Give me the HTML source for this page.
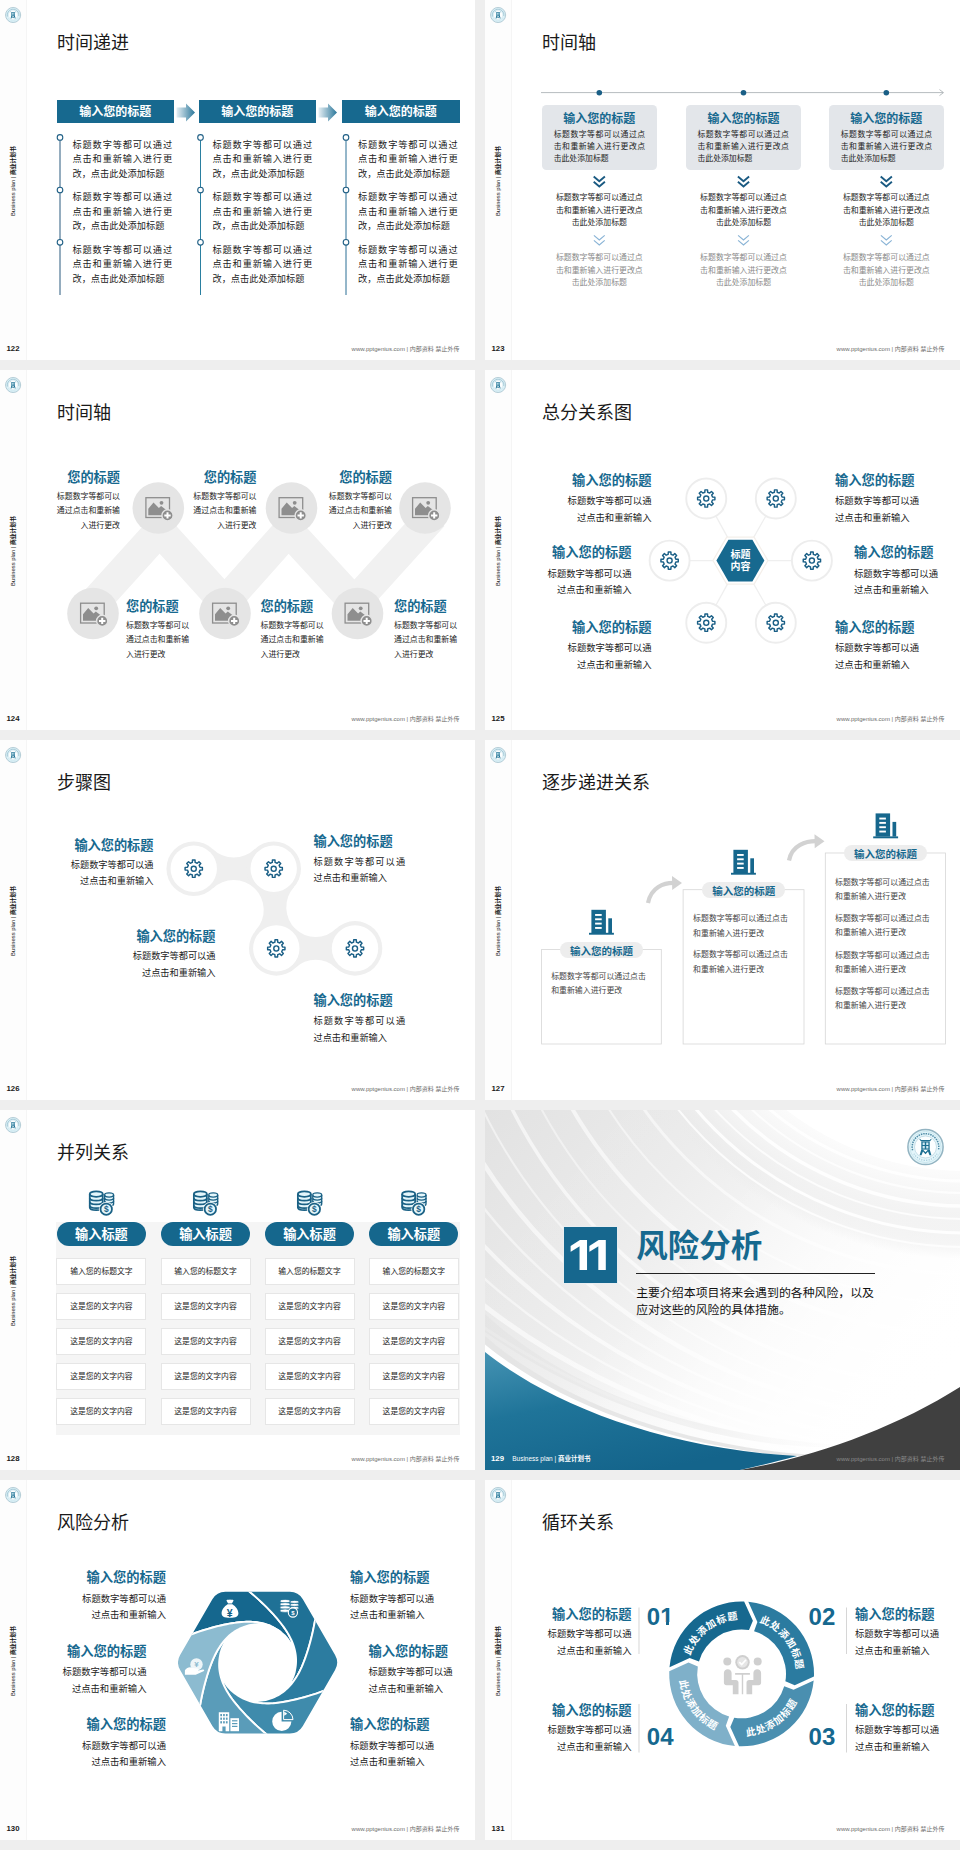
<!DOCTYPE html>
<html lang="zh"><head><meta charset="utf-8"><title>slides</title><style>
*{box-sizing:border-box;margin:0;padding:0}
html,body{width:960px;height:1850px;background:#eeeeee;overflow:hidden}
body{position:relative;font-family:"Liberation Sans","Noto Sans CJK SC",sans-serif;color:#333}
.s{position:absolute;width:475px;height:360px;background:#fff;overflow:hidden}
.s div,.s span,.s svg{position:absolute}
.sb{left:0;top:0;width:26.5px;height:360px;background:#fdfdfd;border-right:1px solid #f5f5f5}
.lg{left:5px;top:7px;width:17px;height:17px}
.vt{left:-36.7px;top:175.5px;width:100px;height:10px;line-height:10px;font-size:5.8px;color:#111;text-align:center;transform:rotate(-90deg);white-space:nowrap}
.pn{left:0;top:344px;width:26px;text-align:center;font-size:7.8px;font-weight:bold;color:#1a1a1a;line-height:10px}
.ft{right:15.5px;top:344px;font-size:6px;color:#6c6c6c;line-height:10px;white-space:nowrap}
.tt{left:57px;top:29.5px;font-size:18px;line-height:26px;color:#1a1a1a;white-space:nowrap}
.h{font-weight:bold;color:#17698f;white-space:nowrap}
.p{color:#333;white-space:nowrap}
.r{text-align:right}
.c{text-align:center}
</style></head><body>
<div class="s" style="left:0px;top:0px"><div class="sb"></div><svg class="lg" style="left:0;top:0;width:27px;height:30px" viewBox="0 0 27 30"><g transform="translate(13.1 15) scale(0.4293478260869566)"><circle r="17.6" fill="#e3f5fa" stroke="#93b4c2" stroke-width="1.5"/><circle r="15.6" fill="none" stroke="#b9dbe6" stroke-width="0.6"/><path d="M-12.9 3.2A13.3 13.3 0 1 1 12.9 3.2" fill="none" stroke="#3d7f9c" stroke-width="1.5" stroke-dasharray="1.5 0.9" stroke-opacity="0.9"/><path d="M-11.5 6.700A13.3 13.3 0 0 0 11.5 6.700" fill="none" stroke="#8fbdd0" stroke-width="1.2" stroke-dasharray="1 1.4" stroke-opacity="0.8"/><circle r="11" fill="#fbfeff" stroke="#a9cbd8" stroke-width="0.6"/><path d="M-5.6 -8.3l1.3 1.3h8.6l1.3-1.3 0.5 0.6-1.5 2h-9.2l-1.5-2z" fill="#1b6f92"/><path d="M-4.2 -5.6h8.4v8.2h-8.4z" fill="#1b6f92"/><path d="M-2.9 -4.4h2.2v2.4h-2.2zM0.7 -4.4h2.2v2.4h-2.2zM-2.9 -1h2.2v2.4h-2.2zM0.7 -1h2.2v2.4h-2.2z" fill="#cfe9f2"/><path d="M-4.2 2.6l-1.7 5.6h1.9l1.5-3.6 2.5 2.7 2.5-2.7 1.5 3.6h1.9l-1.7-5.6h-1.6l-2.6 2.7-2.6-2.7z" fill="#1b6f92"/></g></svg><div class="vt">Business plan | <b>商业计划书</b></div><div class="pn">122</div><div class="ft">www.pptgenius.com | 内部资料 禁止外传</div><div class="tt">时间递进</div><svg style="left:0;top:0" width="475" height="360" viewBox="0 0 475 360"><defs><linearGradient id="ag" x1="0" x2="1" y1="0" y2="0"><stop offset="0" stop-color="#e6eff4"/><stop offset="1" stop-color="#2a779a"/></linearGradient></defs><path d="M176.5 107.5h9.5v-4l9 9-9 9v-4h-9.5z" fill="url(#ag)"/><path d="M318.5 107.5h9.5v-4l9 9-9 9v-4h-9.5z" fill="url(#ag)"/><line x1="60" y1="137" x2="60" y2="295" stroke="#2a5a7e" stroke-width="1"/><circle cx="60" cy="137.4" r="2.8" fill="#fff" stroke="#1f5f85" stroke-width="1.1"/><circle cx="60" cy="190" r="2.8" fill="#fff" stroke="#1f5f85" stroke-width="1.1"/><circle cx="60" cy="242.3" r="2.8" fill="#fff" stroke="#1f5f85" stroke-width="1.1"/><line x1="200.5" y1="137" x2="200.5" y2="295" stroke="#2a7fa0" stroke-width="1"/><circle cx="200.5" cy="137.4" r="2.8" fill="#fff" stroke="#1f5f85" stroke-width="1.1"/><circle cx="200.5" cy="190" r="2.8" fill="#fff" stroke="#1f5f85" stroke-width="1.1"/><circle cx="200.5" cy="242.3" r="2.8" fill="#fff" stroke="#1f5f85" stroke-width="1.1"/><line x1="346" y1="137" x2="346" y2="295" stroke="#2a6f95" stroke-width="1"/><circle cx="346" cy="137.4" r="2.8" fill="#fff" stroke="#1f5f85" stroke-width="1.1"/><circle cx="346" cy="190" r="2.8" fill="#fff" stroke="#1f5f85" stroke-width="1.1"/><circle cx="346" cy="242.3" r="2.8" fill="#fff" stroke="#1f5f85" stroke-width="1.1"/></svg><div style="left:56.5px;top:100px;width:117.5px;height:22.5px;background:#17698f;color:#fff;font-weight:bold;font-size:12px;line-height:25.6px;text-align:center;white-space:nowrap">输入您的标题</div><div style="left:198.5px;top:100px;width:117.5px;height:22.5px;background:#17698f;color:#fff;font-weight:bold;font-size:12px;line-height:25.6px;text-align:center;white-space:nowrap">输入您的标题</div><div style="left:342px;top:100px;width:117.5px;height:22.5px;background:#17698f;color:#fff;font-weight:bold;font-size:12px;line-height:25.6px;text-align:center;white-space:nowrap">输入您的标题</div><div class="p" style="top:137.80px;font-size:9.2px;line-height:14.4px;left:72.5px;color:#222;width:99.6px;white-space:normal;text-align:justify;">标题数字等都可以通过点击和重新输入进行更改，点击此处添加标题</div><div class="p" style="top:190.30px;font-size:9.2px;line-height:14.4px;left:72.5px;color:#222;width:99.6px;white-space:normal;text-align:justify;">标题数字等都可以通过点击和重新输入进行更改，点击此处添加标题</div><div class="p" style="top:242.80px;font-size:9.2px;line-height:14.4px;left:72.5px;color:#222;width:99.6px;white-space:normal;text-align:justify;">标题数字等都可以通过点击和重新输入进行更改，点击此处添加标题</div><div class="p" style="top:137.80px;font-size:9.2px;line-height:14.4px;left:212.5px;color:#222;width:99.6px;white-space:normal;text-align:justify;">标题数字等都可以通过点击和重新输入进行更改，点击此处添加标题</div><div class="p" style="top:190.30px;font-size:9.2px;line-height:14.4px;left:212.5px;color:#222;width:99.6px;white-space:normal;text-align:justify;">标题数字等都可以通过点击和重新输入进行更改，点击此处添加标题</div><div class="p" style="top:242.80px;font-size:9.2px;line-height:14.4px;left:212.5px;color:#222;width:99.6px;white-space:normal;text-align:justify;">标题数字等都可以通过点击和重新输入进行更改，点击此处添加标题</div><div class="p" style="top:137.80px;font-size:9.2px;line-height:14.4px;left:358px;color:#222;width:99.6px;white-space:normal;text-align:justify;">标题数字等都可以通过点击和重新输入进行更改，点击此处添加标题</div><div class="p" style="top:190.30px;font-size:9.2px;line-height:14.4px;left:358px;color:#222;width:99.6px;white-space:normal;text-align:justify;">标题数字等都可以通过点击和重新输入进行更改，点击此处添加标题</div><div class="p" style="top:242.80px;font-size:9.2px;line-height:14.4px;left:358px;color:#222;width:99.6px;white-space:normal;text-align:justify;">标题数字等都可以通过点击和重新输入进行更改，点击此处添加标题</div></div>
<div class="s" style="left:485px;top:0px"><div class="sb"></div><svg class="lg" style="left:0;top:0;width:27px;height:30px" viewBox="0 0 27 30"><g transform="translate(13.1 15) scale(0.4293478260869566)"><circle r="17.6" fill="#e3f5fa" stroke="#93b4c2" stroke-width="1.5"/><circle r="15.6" fill="none" stroke="#b9dbe6" stroke-width="0.6"/><path d="M-12.9 3.2A13.3 13.3 0 1 1 12.9 3.2" fill="none" stroke="#3d7f9c" stroke-width="1.5" stroke-dasharray="1.5 0.9" stroke-opacity="0.9"/><path d="M-11.5 6.700A13.3 13.3 0 0 0 11.5 6.700" fill="none" stroke="#8fbdd0" stroke-width="1.2" stroke-dasharray="1 1.4" stroke-opacity="0.8"/><circle r="11" fill="#fbfeff" stroke="#a9cbd8" stroke-width="0.6"/><path d="M-5.6 -8.3l1.3 1.3h8.6l1.3-1.3 0.5 0.6-1.5 2h-9.2l-1.5-2z" fill="#1b6f92"/><path d="M-4.2 -5.6h8.4v8.2h-8.4z" fill="#1b6f92"/><path d="M-2.9 -4.4h2.2v2.4h-2.2zM0.7 -4.4h2.2v2.4h-2.2zM-2.9 -1h2.2v2.4h-2.2zM0.7 -1h2.2v2.4h-2.2z" fill="#cfe9f2"/><path d="M-4.2 2.6l-1.7 5.6h1.9l1.5-3.6 2.5 2.7 2.5-2.7 1.5 3.6h1.9l-1.7-5.6h-1.6l-2.6 2.7-2.6-2.7z" fill="#1b6f92"/></g></svg><div class="vt">Business plan | <b>商业计划书</b></div><div class="pn">123</div><div class="ft">www.pptgenius.com | 内部资料 禁止外传</div><div class="tt">时间轴</div><svg style="left:0;top:0" width="475" height="360" viewBox="0 0 475 360"><line x1="56" y1="92.6" x2="458" y2="92.6" stroke="#a3a9ad" stroke-width="0.8"/><path d="M454.5 89.6l4 3-4 3" fill="none" stroke="#a3a9ad" stroke-width="0.8"/><circle cx="114.3" cy="92.7" r="2.8" fill="#1a5f86"/><path d="M108.7 176.6l5.6 4.6 5.6-4.6" fill="none" stroke="#1a5a82" stroke-width="1.9"/><path d="M108.7 181.79999999999998l5.6 4.6 5.6-4.6" fill="none" stroke="#1a5a82" stroke-width="1.9"/><path d="M108.89999999999999 235.4l5.4 4.6 5.4-4.6" fill="none" stroke="#8ab4d6" stroke-width="1.2"/><path d="M108.89999999999999 240.4l5.4 4.6 5.4-4.6" fill="none" stroke="#8ab4d6" stroke-width="1.2"/><circle cx="258.5" cy="92.7" r="2.8" fill="#1a5f86"/><path d="M252.9 176.6l5.6 4.6 5.6-4.6" fill="none" stroke="#1a5a82" stroke-width="1.9"/><path d="M252.9 181.79999999999998l5.6 4.6 5.6-4.6" fill="none" stroke="#1a5a82" stroke-width="1.9"/><path d="M253.1 235.4l5.4 4.6 5.4-4.6" fill="none" stroke="#8ab4d6" stroke-width="1.2"/><path d="M253.1 240.4l5.4 4.6 5.4-4.6" fill="none" stroke="#8ab4d6" stroke-width="1.2"/><circle cx="401.3" cy="92.7" r="2.8" fill="#1a5f86"/><path d="M395.7 176.6l5.6 4.6 5.6-4.6" fill="none" stroke="#1a5a82" stroke-width="1.9"/><path d="M395.7 181.79999999999998l5.6 4.6 5.6-4.6" fill="none" stroke="#1a5a82" stroke-width="1.9"/><path d="M395.90000000000003 235.4l5.4 4.6 5.4-4.6" fill="none" stroke="#8ab4d6" stroke-width="1.2"/><path d="M395.90000000000003 240.4l5.4 4.6 5.4-4.6" fill="none" stroke="#8ab4d6" stroke-width="1.2"/></svg><div style="left:56.7px;top:104.5px;width:115.5px;height:65.5px;background:#e3e6ea;border-radius:4.5px"></div><div class="h c" style="top:111.10px;font-size:12px;line-height:16px;left:56.8px;width:115px;text-align:center;">输入您的标题</div><div class="p" style="top:129.05px;font-size:7.85px;line-height:12.1px;left:68.7px;color:#222;width:91.4px;white-space:normal;text-align:justify;">标题数字等都可以通过点击和重新输入进行更改点击此处添加标题</div><div class="p c" style="top:192.05px;font-size:7.9px;line-height:12.5px;left:56.8px;width:115px;text-align:center;color:#222;">标题数字等都可以通过点<br>击和重新输入进行更改点<br>击此处添加标题</div><div class="p c" style="top:252.05px;font-size:7.9px;line-height:12.5px;left:56.8px;width:115px;text-align:center;color:#8a8a8a;">标题数字等都可以通过点<br>击和重新输入进行更改点<br>击此处添加标题</div><div style="left:200.5px;top:104.5px;width:115.5px;height:65.5px;background:#e3e6ea;border-radius:4.5px"></div><div class="h c" style="top:111.10px;font-size:12px;line-height:16px;left:201.0px;width:115px;text-align:center;">输入您的标题</div><div class="p" style="top:129.05px;font-size:7.85px;line-height:12.1px;left:212.5px;color:#222;width:91.4px;white-space:normal;text-align:justify;">标题数字等都可以通过点击和重新输入进行更改点击此处添加标题</div><div class="p c" style="top:192.05px;font-size:7.9px;line-height:12.5px;left:201.0px;width:115px;text-align:center;color:#222;">标题数字等都可以通过点<br>击和重新输入进行更改点<br>击此处添加标题</div><div class="p c" style="top:252.05px;font-size:7.9px;line-height:12.5px;left:201.0px;width:115px;text-align:center;color:#8a8a8a;">标题数字等都可以通过点<br>击和重新输入进行更改点<br>击此处添加标题</div><div style="left:343.7px;top:104.5px;width:115.5px;height:65.5px;background:#e3e6ea;border-radius:4.5px"></div><div class="h c" style="top:111.10px;font-size:12px;line-height:16px;left:343.8px;width:115px;text-align:center;">输入您的标题</div><div class="p" style="top:129.05px;font-size:7.85px;line-height:12.1px;left:355.7px;color:#222;width:91.4px;white-space:normal;text-align:justify;">标题数字等都可以通过点击和重新输入进行更改点击此处添加标题</div><div class="p c" style="top:192.05px;font-size:7.9px;line-height:12.5px;left:343.8px;width:115px;text-align:center;color:#222;">标题数字等都可以通过点<br>击和重新输入进行更改点<br>击此处添加标题</div><div class="p c" style="top:252.05px;font-size:7.9px;line-height:12.5px;left:343.8px;width:115px;text-align:center;color:#8a8a8a;">标题数字等都可以通过点<br>击和重新输入进行更改点<br>击此处添加标题</div></div>
<div class="s" style="left:0px;top:370px"><div class="sb"></div><svg class="lg" style="left:0;top:0;width:27px;height:30px" viewBox="0 0 27 30"><g transform="translate(13.1 15) scale(0.4293478260869566)"><circle r="17.6" fill="#e3f5fa" stroke="#93b4c2" stroke-width="1.5"/><circle r="15.6" fill="none" stroke="#b9dbe6" stroke-width="0.6"/><path d="M-12.9 3.2A13.3 13.3 0 1 1 12.9 3.2" fill="none" stroke="#3d7f9c" stroke-width="1.5" stroke-dasharray="1.5 0.9" stroke-opacity="0.9"/><path d="M-11.5 6.700A13.3 13.3 0 0 0 11.5 6.700" fill="none" stroke="#8fbdd0" stroke-width="1.2" stroke-dasharray="1 1.4" stroke-opacity="0.8"/><circle r="11" fill="#fbfeff" stroke="#a9cbd8" stroke-width="0.6"/><path d="M-5.6 -8.3l1.3 1.3h8.6l1.3-1.3 0.5 0.6-1.5 2h-9.2l-1.5-2z" fill="#1b6f92"/><path d="M-4.2 -5.6h8.4v8.2h-8.4z" fill="#1b6f92"/><path d="M-2.9 -4.4h2.2v2.4h-2.2zM0.7 -4.4h2.2v2.4h-2.2zM-2.9 -1h2.2v2.4h-2.2zM0.7 -1h2.2v2.4h-2.2z" fill="#cfe9f2"/><path d="M-4.2 2.6l-1.7 5.6h1.9l1.5-3.6 2.5 2.7 2.5-2.7 1.5 3.6h1.9l-1.7-5.6h-1.6l-2.6 2.7-2.6-2.7z" fill="#1b6f92"/></g></svg><div class="vt">Business plan | <b>商业计划书</b></div><div class="pn">124</div><div class="ft">www.pptgenius.com | 内部资料 禁止外传</div><div class="tt">时间轴</div><svg style="left:0;top:0" width="475" height="360" viewBox="0 0 475 360"><polyline points="88.4,239.3 159.6,160.7 224.6,232.4 288.5,160.7 354.5,232.4 432.9,145.9" fill="none" stroke="#f1f1f1" stroke-width="31" stroke-linejoin="miter"/><g transform="translate(93 243.5)"><circle r="25.8" fill="#e5e5e5"/><rect x="-12.4" y="-10.3" width="23.6" height="19.8" fill="none" stroke="#8e8e8e" stroke-width="1.3"/><path d="M-10 7.3v-6.5l5.2-6.2 5.4 5.3 2.2-2 5.2 4v5.4z" fill="#8e8e8e"/><circle cx="3.2" cy="-5.2" r="1.9" fill="#8e8e8e"/><circle cx="9.2" cy="7.4" r="5.6" fill="#8e8e8e" stroke="#e5e5e5" stroke-width="1.4"/><path d="M9.2 4.2v6.4M6 7.4h6.4" stroke="#fff" stroke-width="2" fill="none"/></g><g transform="translate(158.3 138)"><circle r="25.8" fill="#e5e5e5"/><rect x="-12.4" y="-10.3" width="23.6" height="19.8" fill="none" stroke="#8e8e8e" stroke-width="1.3"/><path d="M-10 7.3v-6.5l5.2-6.2 5.4 5.3 2.2-2 5.2 4v5.4z" fill="#8e8e8e"/><circle cx="3.2" cy="-5.2" r="1.9" fill="#8e8e8e"/><circle cx="9.2" cy="7.4" r="5.6" fill="#8e8e8e" stroke="#e5e5e5" stroke-width="1.4"/><path d="M9.2 4.2v6.4M6 7.4h6.4" stroke="#fff" stroke-width="2" fill="none"/></g><g transform="translate(225 243.5)"><circle r="25.8" fill="#e5e5e5"/><rect x="-12.4" y="-10.3" width="23.6" height="19.8" fill="none" stroke="#8e8e8e" stroke-width="1.3"/><path d="M-10 7.3v-6.5l5.2-6.2 5.4 5.3 2.2-2 5.2 4v5.4z" fill="#8e8e8e"/><circle cx="3.2" cy="-5.2" r="1.9" fill="#8e8e8e"/><circle cx="9.2" cy="7.4" r="5.6" fill="#8e8e8e" stroke="#e5e5e5" stroke-width="1.4"/><path d="M9.2 4.2v6.4M6 7.4h6.4" stroke="#fff" stroke-width="2" fill="none"/></g><g transform="translate(291.5 138)"><circle r="25.8" fill="#e5e5e5"/><rect x="-12.4" y="-10.3" width="23.6" height="19.8" fill="none" stroke="#8e8e8e" stroke-width="1.3"/><path d="M-10 7.3v-6.5l5.2-6.2 5.4 5.3 2.2-2 5.2 4v5.4z" fill="#8e8e8e"/><circle cx="3.2" cy="-5.2" r="1.9" fill="#8e8e8e"/><circle cx="9.2" cy="7.4" r="5.6" fill="#8e8e8e" stroke="#e5e5e5" stroke-width="1.4"/><path d="M9.2 4.2v6.4M6 7.4h6.4" stroke="#fff" stroke-width="2" fill="none"/></g><g transform="translate(357.5 243.5)"><circle r="25.8" fill="#e5e5e5"/><rect x="-12.4" y="-10.3" width="23.6" height="19.8" fill="none" stroke="#8e8e8e" stroke-width="1.3"/><path d="M-10 7.3v-6.5l5.2-6.2 5.4 5.3 2.2-2 5.2 4v5.4z" fill="#8e8e8e"/><circle cx="3.2" cy="-5.2" r="1.9" fill="#8e8e8e"/><circle cx="9.2" cy="7.4" r="5.6" fill="#8e8e8e" stroke="#e5e5e5" stroke-width="1.4"/><path d="M9.2 4.2v6.4M6 7.4h6.4" stroke="#fff" stroke-width="2" fill="none"/></g><g transform="translate(425 138)"><circle r="25.8" fill="#e5e5e5"/><rect x="-12.4" y="-10.3" width="23.6" height="19.8" fill="none" stroke="#8e8e8e" stroke-width="1.3"/><path d="M-10 7.3v-6.5l5.2-6.2 5.4 5.3 2.2-2 5.2 4v5.4z" fill="#8e8e8e"/><circle cx="3.2" cy="-5.2" r="1.9" fill="#8e8e8e"/><circle cx="9.2" cy="7.4" r="5.6" fill="#8e8e8e" stroke="#e5e5e5" stroke-width="1.4"/><path d="M9.2 4.2v6.4M6 7.4h6.4" stroke="#fff" stroke-width="2" fill="none"/></g></svg><div class="h" style="top:99.00px;font-size:13.2px;line-height:18px;right:355px;text-align:right;">您的标题</div><div class="p" style="top:119.72px;font-size:7.9px;line-height:14.55px;right:355px;text-align:right;color:#222;">标题数字等都可以<br>通过点击和重新输<br>入进行更改</div><div class="h" style="top:99.00px;font-size:13.2px;line-height:18px;right:218.5px;text-align:right;">您的标题</div><div class="p" style="top:119.72px;font-size:7.9px;line-height:14.55px;right:218.5px;text-align:right;color:#222;">标题数字等都可以<br>通过点击和重新输<br>入进行更改</div><div class="h" style="top:99.00px;font-size:13.2px;line-height:18px;right:83px;text-align:right;">您的标题</div><div class="p" style="top:119.72px;font-size:7.9px;line-height:14.55px;right:83px;text-align:right;color:#222;">标题数字等都可以<br>通过点击和重新输<br>入进行更改</div><div class="h" style="top:228.00px;font-size:13.2px;line-height:18px;left:126px;">您的标题</div><div class="p" style="top:248.53px;font-size:7.9px;line-height:14.55px;left:126px;color:#222;">标题数字等都可以<br>通过点击和重新输<br>入进行更改</div><div class="h" style="top:228.00px;font-size:13.2px;line-height:18px;left:260.5px;">您的标题</div><div class="p" style="top:248.53px;font-size:7.9px;line-height:14.55px;left:260.5px;color:#222;">标题数字等都可以<br>通过点击和重新输<br>入进行更改</div><div class="h" style="top:228.00px;font-size:13.2px;line-height:18px;left:394px;">您的标题</div><div class="p" style="top:248.53px;font-size:7.9px;line-height:14.55px;left:394px;color:#222;">标题数字等都可以<br>通过点击和重新输<br>入进行更改</div></div>
<div class="s" style="left:485px;top:370px"><div class="sb"></div><svg class="lg" style="left:0;top:0;width:27px;height:30px" viewBox="0 0 27 30"><g transform="translate(13.1 15) scale(0.4293478260869566)"><circle r="17.6" fill="#e3f5fa" stroke="#93b4c2" stroke-width="1.5"/><circle r="15.6" fill="none" stroke="#b9dbe6" stroke-width="0.6"/><path d="M-12.9 3.2A13.3 13.3 0 1 1 12.9 3.2" fill="none" stroke="#3d7f9c" stroke-width="1.5" stroke-dasharray="1.5 0.9" stroke-opacity="0.9"/><path d="M-11.5 6.700A13.3 13.3 0 0 0 11.5 6.700" fill="none" stroke="#8fbdd0" stroke-width="1.2" stroke-dasharray="1 1.4" stroke-opacity="0.8"/><circle r="11" fill="#fbfeff" stroke="#a9cbd8" stroke-width="0.6"/><path d="M-5.6 -8.3l1.3 1.3h8.6l1.3-1.3 0.5 0.6-1.5 2h-9.2l-1.5-2z" fill="#1b6f92"/><path d="M-4.2 -5.6h8.4v8.2h-8.4z" fill="#1b6f92"/><path d="M-2.9 -4.4h2.2v2.4h-2.2zM0.7 -4.4h2.2v2.4h-2.2zM-2.9 -1h2.2v2.4h-2.2zM0.7 -1h2.2v2.4h-2.2z" fill="#cfe9f2"/><path d="M-4.2 2.6l-1.7 5.6h1.9l1.5-3.6 2.5 2.7 2.5-2.7 1.5 3.6h1.9l-1.7-5.6h-1.6l-2.6 2.7-2.6-2.7z" fill="#1b6f92"/></g></svg><div class="vt">Business plan | <b>商业计划书</b></div><div class="pn">125</div><div class="ft">www.pptgenius.com | 内部资料 禁止外传</div><div class="tt">总分关系图</div><svg style="left:0;top:0" width="475" height="360" viewBox="0 0 475 360"><line x1="255.4" y1="190.6" x2="221.25" y2="128.5" stroke="#efefef" stroke-width="1.3"/><line x1="255.4" y1="190.6" x2="290.8" y2="128.5" stroke="#efefef" stroke-width="1.3"/><line x1="255.4" y1="190.6" x2="184.6" y2="190.6" stroke="#efefef" stroke-width="1.3"/><line x1="255.4" y1="190.6" x2="326.9" y2="190.6" stroke="#efefef" stroke-width="1.3"/><line x1="255.4" y1="190.6" x2="221.25" y2="252.7" stroke="#efefef" stroke-width="1.3"/><line x1="255.4" y1="190.6" x2="290.8" y2="252.7" stroke="#efefef" stroke-width="1.3"/><polygon points="227.9,190.6 241.7,167.1 269.1,167.1 282.9,190.6 269.1,214.1 241.7,214.1" fill="#fff" stroke="#f4efea" stroke-width="1.2"/><polygon points="231.4,190.6 243.4,169.8 267.4,169.8 279.4,190.6 267.4,211.4 243.4,211.4" fill="#17698f"/><circle cx="221.25" cy="128.5" r="20" fill="#fff" stroke="#ededed" stroke-width="1.9"/><g transform="translate(221.25 128.5) scale(0.93)" fill="none" stroke="#1a5f86" stroke-width="1.55" stroke-linejoin="round"><path d="M-1.51 -6.73L-1.40 -9.30L1.40 -9.30L1.51 -6.73L3.70 -5.83L5.58 -7.56L7.56 -5.58L5.83 -3.70L6.73 -1.51L9.30 -1.40L9.30 1.40L6.73 1.51L5.83 3.70L7.56 5.58L5.58 7.56L3.70 5.83L1.51 6.73L1.40 9.30L-1.40 9.30L-1.51 6.73L-3.70 5.83L-5.58 7.56L-7.56 5.58L-5.83 3.70L-6.73 1.51L-9.30 1.40L-9.30 -1.40L-6.73 -1.51L-5.83 -3.70L-7.56 -5.58L-5.58 -7.56L-3.70 -5.83Z"/><circle r="2.7"/></g><circle cx="290.8" cy="128.5" r="20" fill="#fff" stroke="#ededed" stroke-width="1.9"/><g transform="translate(290.8 128.5) scale(0.93)" fill="none" stroke="#1a5f86" stroke-width="1.55" stroke-linejoin="round"><path d="M-1.51 -6.73L-1.40 -9.30L1.40 -9.30L1.51 -6.73L3.70 -5.83L5.58 -7.56L7.56 -5.58L5.83 -3.70L6.73 -1.51L9.30 -1.40L9.30 1.40L6.73 1.51L5.83 3.70L7.56 5.58L5.58 7.56L3.70 5.83L1.51 6.73L1.40 9.30L-1.40 9.30L-1.51 6.73L-3.70 5.83L-5.58 7.56L-7.56 5.58L-5.83 3.70L-6.73 1.51L-9.30 1.40L-9.30 -1.40L-6.73 -1.51L-5.83 -3.70L-7.56 -5.58L-5.58 -7.56L-3.70 -5.83Z"/><circle r="2.7"/></g><circle cx="184.6" cy="190.6" r="20" fill="#fff" stroke="#ededed" stroke-width="1.9"/><g transform="translate(184.6 190.6) scale(0.93)" fill="none" stroke="#1a5f86" stroke-width="1.55" stroke-linejoin="round"><path d="M-1.51 -6.73L-1.40 -9.30L1.40 -9.30L1.51 -6.73L3.70 -5.83L5.58 -7.56L7.56 -5.58L5.83 -3.70L6.73 -1.51L9.30 -1.40L9.30 1.40L6.73 1.51L5.83 3.70L7.56 5.58L5.58 7.56L3.70 5.83L1.51 6.73L1.40 9.30L-1.40 9.30L-1.51 6.73L-3.70 5.83L-5.58 7.56L-7.56 5.58L-5.83 3.70L-6.73 1.51L-9.30 1.40L-9.30 -1.40L-6.73 -1.51L-5.83 -3.70L-7.56 -5.58L-5.58 -7.56L-3.70 -5.83Z"/><circle r="2.7"/></g><circle cx="326.9" cy="190.6" r="20" fill="#fff" stroke="#ededed" stroke-width="1.9"/><g transform="translate(326.9 190.6) scale(0.93)" fill="none" stroke="#1a5f86" stroke-width="1.55" stroke-linejoin="round"><path d="M-1.51 -6.73L-1.40 -9.30L1.40 -9.30L1.51 -6.73L3.70 -5.83L5.58 -7.56L7.56 -5.58L5.83 -3.70L6.73 -1.51L9.30 -1.40L9.30 1.40L6.73 1.51L5.83 3.70L7.56 5.58L5.58 7.56L3.70 5.83L1.51 6.73L1.40 9.30L-1.40 9.30L-1.51 6.73L-3.70 5.83L-5.58 7.56L-7.56 5.58L-5.83 3.70L-6.73 1.51L-9.30 1.40L-9.30 -1.40L-6.73 -1.51L-5.83 -3.70L-7.56 -5.58L-5.58 -7.56L-3.70 -5.83Z"/><circle r="2.7"/></g><circle cx="221.25" cy="252.7" r="20" fill="#fff" stroke="#ededed" stroke-width="1.9"/><g transform="translate(221.25 252.7) scale(0.93)" fill="none" stroke="#1a5f86" stroke-width="1.55" stroke-linejoin="round"><path d="M-1.51 -6.73L-1.40 -9.30L1.40 -9.30L1.51 -6.73L3.70 -5.83L5.58 -7.56L7.56 -5.58L5.83 -3.70L6.73 -1.51L9.30 -1.40L9.30 1.40L6.73 1.51L5.83 3.70L7.56 5.58L5.58 7.56L3.70 5.83L1.51 6.73L1.40 9.30L-1.40 9.30L-1.51 6.73L-3.70 5.83L-5.58 7.56L-7.56 5.58L-5.83 3.70L-6.73 1.51L-9.30 1.40L-9.30 -1.40L-6.73 -1.51L-5.83 -3.70L-7.56 -5.58L-5.58 -7.56L-3.70 -5.83Z"/><circle r="2.7"/></g><circle cx="290.8" cy="252.7" r="20" fill="#fff" stroke="#ededed" stroke-width="1.9"/><g transform="translate(290.8 252.7) scale(0.93)" fill="none" stroke="#1a5f86" stroke-width="1.55" stroke-linejoin="round"><path d="M-1.51 -6.73L-1.40 -9.30L1.40 -9.30L1.51 -6.73L3.70 -5.83L5.58 -7.56L7.56 -5.58L5.83 -3.70L6.73 -1.51L9.30 -1.40L9.30 1.40L6.73 1.51L5.83 3.70L7.56 5.58L5.58 7.56L3.70 5.83L1.51 6.73L1.40 9.30L-1.40 9.30L-1.51 6.73L-3.70 5.83L-5.58 7.56L-7.56 5.58L-5.83 3.70L-6.73 1.51L-9.30 1.40L-9.30 -1.40L-6.73 -1.51L-5.83 -3.70L-7.56 -5.58L-5.58 -7.56L-3.70 -5.83Z"/><circle r="2.7"/></g></svg><div class="h c" style="top:179.25px;font-size:10px;line-height:11.9px;left:225.4px;width:60px;text-align:center;color:#fff;">标题<br>内容</div><div class="h" style="top:101.80px;font-size:13.25px;line-height:18px;right:308.5px;text-align:right;">输入您的标题</div><div class="p" style="top:123.35px;font-size:9.33px;line-height:16.5px;right:308.5px;text-align:right;color:#222;">标题数字等都可以通<br>过点击和重新输入</div><div class="h" style="top:174.30px;font-size:13.25px;line-height:18px;right:328.5px;text-align:right;">输入您的标题</div><div class="p" style="top:195.85px;font-size:9.33px;line-height:16.5px;right:328.5px;text-align:right;color:#222;">标题数字等都可以通<br>过点击和重新输入</div><div class="h" style="top:248.80px;font-size:13.25px;line-height:18px;right:308.5px;text-align:right;">输入您的标题</div><div class="p" style="top:270.35px;font-size:9.33px;line-height:16.5px;right:308.5px;text-align:right;color:#222;">标题数字等都可以通<br>过点击和重新输入</div><div class="h" style="top:101.80px;font-size:13.25px;line-height:18px;left:350px;">输入您的标题</div><div class="p" style="top:123.35px;font-size:9.33px;line-height:16.5px;left:350px;color:#222;">标题数字等都可以通<br>过点击和重新输入</div><div class="h" style="top:174.30px;font-size:13.25px;line-height:18px;left:369px;">输入您的标题</div><div class="p" style="top:195.85px;font-size:9.33px;line-height:16.5px;left:369px;color:#222;">标题数字等都可以通<br>过点击和重新输入</div><div class="h" style="top:248.80px;font-size:13.25px;line-height:18px;left:350px;">输入您的标题</div><div class="p" style="top:270.35px;font-size:9.33px;line-height:16.5px;left:350px;color:#222;">标题数字等都可以通<br>过点击和重新输入</div></div>
<div class="s" style="left:0px;top:740px"><div class="sb"></div><svg class="lg" style="left:0;top:0;width:27px;height:30px" viewBox="0 0 27 30"><g transform="translate(13.1 15) scale(0.4293478260869566)"><circle r="17.6" fill="#e3f5fa" stroke="#93b4c2" stroke-width="1.5"/><circle r="15.6" fill="none" stroke="#b9dbe6" stroke-width="0.6"/><path d="M-12.9 3.2A13.3 13.3 0 1 1 12.9 3.2" fill="none" stroke="#3d7f9c" stroke-width="1.5" stroke-dasharray="1.5 0.9" stroke-opacity="0.9"/><path d="M-11.5 6.700A13.3 13.3 0 0 0 11.5 6.700" fill="none" stroke="#8fbdd0" stroke-width="1.2" stroke-dasharray="1 1.4" stroke-opacity="0.8"/><circle r="11" fill="#fbfeff" stroke="#a9cbd8" stroke-width="0.6"/><path d="M-5.6 -8.3l1.3 1.3h8.6l1.3-1.3 0.5 0.6-1.5 2h-9.2l-1.5-2z" fill="#1b6f92"/><path d="M-4.2 -5.6h8.4v8.2h-8.4z" fill="#1b6f92"/><path d="M-2.9 -4.4h2.2v2.4h-2.2zM0.7 -4.4h2.2v2.4h-2.2zM-2.9 -1h2.2v2.4h-2.2zM0.7 -1h2.2v2.4h-2.2z" fill="#cfe9f2"/><path d="M-4.2 2.6l-1.7 5.6h1.9l1.5-3.6 2.5 2.7 2.5-2.7 1.5 3.6h1.9l-1.7-5.6h-1.6l-2.6 2.7-2.6-2.7z" fill="#1b6f92"/></g></svg><div class="vt">Business plan | <b>商业计划书</b></div><div class="pn">126</div><div class="ft">www.pptgenius.com | 内部资料 禁止外传</div><div class="tt">步骤图</div><svg style="left:0;top:0" width="475" height="360" viewBox="0 0 475 360"><path transform="translate(193.75 128.7) rotate(0.00)" d="M18.84 -19.76A30.64 30.64 0 0 0 61.11 -19.76L61.11 19.76A30.64 30.64 0 0 0 18.84 19.76Z" fill="#efefef"/><path transform="translate(273.7 128.7) rotate(88.13)" d="M18.87 -19.73A30.38 30.38 0 0 0 60.87 -19.73L60.87 19.73A30.38 30.38 0 0 0 18.87 19.73Z" fill="#efefef"/><path transform="translate(276.3 208.4) rotate(0.00)" d="M19.05 -19.55A29.09 29.09 0 0 0 59.65 -19.55L59.65 19.55A29.09 29.09 0 0 0 19.05 19.55Z" fill="#efefef"/><circle cx="193.75" cy="128.7" r="27.3" fill="#efefef"/><circle cx="273.7" cy="128.7" r="27.3" fill="#efefef"/><circle cx="276.3" cy="208.4" r="27.3" fill="#efefef"/><circle cx="355" cy="208.4" r="27.3" fill="#efefef"/><circle cx="193.75" cy="128.7" r="23.2" fill="#fff"/><g transform="translate(193.75 128.7) scale(0.93)" fill="none" stroke="#1a5f86" stroke-width="1.55" stroke-linejoin="round"><path d="M-1.51 -6.73L-1.40 -9.30L1.40 -9.30L1.51 -6.73L3.70 -5.83L5.58 -7.56L7.56 -5.58L5.83 -3.70L6.73 -1.51L9.30 -1.40L9.30 1.40L6.73 1.51L5.83 3.70L7.56 5.58L5.58 7.56L3.70 5.83L1.51 6.73L1.40 9.30L-1.40 9.30L-1.51 6.73L-3.70 5.83L-5.58 7.56L-7.56 5.58L-5.83 3.70L-6.73 1.51L-9.30 1.40L-9.30 -1.40L-6.73 -1.51L-5.83 -3.70L-7.56 -5.58L-5.58 -7.56L-3.70 -5.83Z"/><circle r="2.7"/></g><circle cx="273.7" cy="128.7" r="23.2" fill="#fff"/><g transform="translate(273.7 128.7) scale(0.93)" fill="none" stroke="#1a5f86" stroke-width="1.55" stroke-linejoin="round"><path d="M-1.51 -6.73L-1.40 -9.30L1.40 -9.30L1.51 -6.73L3.70 -5.83L5.58 -7.56L7.56 -5.58L5.83 -3.70L6.73 -1.51L9.30 -1.40L9.30 1.40L6.73 1.51L5.83 3.70L7.56 5.58L5.58 7.56L3.70 5.83L1.51 6.73L1.40 9.30L-1.40 9.30L-1.51 6.73L-3.70 5.83L-5.58 7.56L-7.56 5.58L-5.83 3.70L-6.73 1.51L-9.30 1.40L-9.30 -1.40L-6.73 -1.51L-5.83 -3.70L-7.56 -5.58L-5.58 -7.56L-3.70 -5.83Z"/><circle r="2.7"/></g><circle cx="276.3" cy="208.4" r="23.2" fill="#fff"/><g transform="translate(276.3 208.4) scale(0.93)" fill="none" stroke="#1a5f86" stroke-width="1.55" stroke-linejoin="round"><path d="M-1.51 -6.73L-1.40 -9.30L1.40 -9.30L1.51 -6.73L3.70 -5.83L5.58 -7.56L7.56 -5.58L5.83 -3.70L6.73 -1.51L9.30 -1.40L9.30 1.40L6.73 1.51L5.83 3.70L7.56 5.58L5.58 7.56L3.70 5.83L1.51 6.73L1.40 9.30L-1.40 9.30L-1.51 6.73L-3.70 5.83L-5.58 7.56L-7.56 5.58L-5.83 3.70L-6.73 1.51L-9.30 1.40L-9.30 -1.40L-6.73 -1.51L-5.83 -3.70L-7.56 -5.58L-5.58 -7.56L-3.70 -5.83Z"/><circle r="2.7"/></g><circle cx="355" cy="208.4" r="23.2" fill="#fff"/><g transform="translate(355 208.4) scale(0.93)" fill="none" stroke="#1a5f86" stroke-width="1.55" stroke-linejoin="round"><path d="M-1.51 -6.73L-1.40 -9.30L1.40 -9.30L1.51 -6.73L3.70 -5.83L5.58 -7.56L7.56 -5.58L5.83 -3.70L6.73 -1.51L9.30 -1.40L9.30 1.40L6.73 1.51L5.83 3.70L7.56 5.58L5.58 7.56L3.70 5.83L1.51 6.73L1.40 9.30L-1.40 9.30L-1.51 6.73L-3.70 5.83L-5.58 7.56L-7.56 5.58L-5.83 3.70L-6.73 1.51L-9.30 1.40L-9.30 -1.40L-6.73 -1.51L-5.83 -3.70L-7.56 -5.58L-5.58 -7.56L-3.70 -5.83Z"/><circle r="2.7"/></g></svg><div class="h" style="top:96.60px;font-size:13.2px;line-height:18px;right:321.5px;text-align:right;">输入您的标题</div><div class="p" style="top:116.70px;font-size:9.2px;line-height:16.8px;right:321.5px;text-align:right;color:#222;">标题数字等都可以通<br>过点击和重新输入</div><div class="h" style="top:187.60px;font-size:13.2px;line-height:18px;right:259.5px;text-align:right;">输入您的标题</div><div class="p" style="top:208.20px;font-size:9.2px;line-height:16.8px;right:259.5px;text-align:right;color:#222;">标题数字等都可以通<br>过点击和重新输入</div><div class="h" style="top:92.60px;font-size:13.2px;line-height:18px;left:313.5px;">输入您的标题</div><div class="p" style="top:113.50px;font-size:9.2px;line-height:16.8px;left:313.5px;color:#222;width:91.6px;white-space:normal;text-align:justify;">标题数字等都可以通过点击和重新输入</div><div class="h" style="top:252.30px;font-size:13.2px;line-height:18px;left:313.5px;">输入您的标题</div><div class="p" style="top:273.20px;font-size:9.2px;line-height:16.8px;left:313.5px;color:#222;width:91.6px;white-space:normal;text-align:justify;">标题数字等都可以通过点击和重新输入</div></div>
<div class="s" style="left:485px;top:740px"><div class="sb"></div><svg class="lg" style="left:0;top:0;width:27px;height:30px" viewBox="0 0 27 30"><g transform="translate(13.1 15) scale(0.4293478260869566)"><circle r="17.6" fill="#e3f5fa" stroke="#93b4c2" stroke-width="1.5"/><circle r="15.6" fill="none" stroke="#b9dbe6" stroke-width="0.6"/><path d="M-12.9 3.2A13.3 13.3 0 1 1 12.9 3.2" fill="none" stroke="#3d7f9c" stroke-width="1.5" stroke-dasharray="1.5 0.9" stroke-opacity="0.9"/><path d="M-11.5 6.700A13.3 13.3 0 0 0 11.5 6.700" fill="none" stroke="#8fbdd0" stroke-width="1.2" stroke-dasharray="1 1.4" stroke-opacity="0.8"/><circle r="11" fill="#fbfeff" stroke="#a9cbd8" stroke-width="0.6"/><path d="M-5.6 -8.3l1.3 1.3h8.6l1.3-1.3 0.5 0.6-1.5 2h-9.2l-1.5-2z" fill="#1b6f92"/><path d="M-4.2 -5.6h8.4v8.2h-8.4z" fill="#1b6f92"/><path d="M-2.9 -4.4h2.2v2.4h-2.2zM0.7 -4.4h2.2v2.4h-2.2zM-2.9 -1h2.2v2.4h-2.2zM0.7 -1h2.2v2.4h-2.2z" fill="#cfe9f2"/><path d="M-4.2 2.6l-1.7 5.6h1.9l1.5-3.6 2.5 2.7 2.5-2.7 1.5 3.6h1.9l-1.7-5.6h-1.6l-2.6 2.7-2.6-2.7z" fill="#1b6f92"/></g></svg><div class="vt">Business plan | <b>商业计划书</b></div><div class="pn">127</div><div class="ft">www.pptgenius.com | 内部资料 禁止外传</div><div class="tt">逐步递进关系</div><svg style="left:0;top:0" width="475" height="360" viewBox="0 0 475 360"><rect x="56.6" y="209.4" width="119.70000000000002" height="94.6" fill="#fff" stroke="#d6d6d6" stroke-width="0.8"/><rect x="198.1" y="149.7" width="120.9" height="154.3" fill="#fff" stroke="#d6d6d6" stroke-width="0.8"/><rect x="340.3" y="113" width="120.19999999999999" height="191" fill="#fff" stroke="#d6d6d6" stroke-width="0.8"/><path d="M163 163C166 147 179 142.89999999999998 188.5 142.89999999999998" fill="none" stroke="#d2d2d2" stroke-width="4.2"/><path d="M197 142.89999999999998l-10 -7 0.2 14z" fill="#d2d2d2"/><path d="M304 120.5C307 104.5 321.5 101.2 331.0 101.2" fill="none" stroke="#d2d2d2" stroke-width="4.2"/><path d="M339.5 101.2l-10 -7 0.2 14z" fill="#d2d2d2"/><g transform="translate(104 169.8)"><rect x="2.4" y="0" width="14.5" height="23.2" fill="#16678d"/><rect x="6.1" y="4.20" width="6.6" height="1.9" fill="#fff"/><rect x="6.1" y="8.53" width="6.6" height="1.9" fill="#fff"/><rect x="6.1" y="12.86" width="6.6" height="1.9" fill="#fff"/><rect x="6.1" y="17.19" width="6.6" height="1.9" fill="#fff"/><rect x="19.3" y="8.5" width="3.7" height="14.7" fill="#16678d"/><rect x="0" y="23" width="24.9" height="1.9" fill="#16678d"/></g><g transform="translate(246 109.8)"><rect x="2.4" y="0" width="14.5" height="23.2" fill="#16678d"/><rect x="6.1" y="4.20" width="6.6" height="1.9" fill="#fff"/><rect x="6.1" y="8.53" width="6.6" height="1.9" fill="#fff"/><rect x="6.1" y="12.86" width="6.6" height="1.9" fill="#fff"/><rect x="6.1" y="17.19" width="6.6" height="1.9" fill="#fff"/><rect x="19.3" y="8.5" width="3.7" height="14.7" fill="#16678d"/><rect x="0" y="23" width="24.9" height="1.9" fill="#16678d"/></g><g transform="translate(388.2 73.4)"><rect x="2.4" y="0" width="14.5" height="23.2" fill="#16678d"/><rect x="6.1" y="4.20" width="6.6" height="1.9" fill="#fff"/><rect x="6.1" y="8.53" width="6.6" height="1.9" fill="#fff"/><rect x="6.1" y="12.86" width="6.6" height="1.9" fill="#fff"/><rect x="6.1" y="17.19" width="6.6" height="1.9" fill="#fff"/><rect x="19.3" y="8.5" width="3.7" height="14.7" fill="#16678d"/><rect x="0" y="23" width="24.9" height="1.9" fill="#16678d"/></g></svg><div style="left:75.0px;top:202.1px;width:83px;height:15.8px;border-radius:8px;background:#ededed"></div><div class="h c" style="top:203.80px;font-size:10.5px;line-height:14px;left:75.0px;width:83px;text-align:center;">输入您的标题</div><div style="left:217.2px;top:142.4px;width:83px;height:15.8px;border-radius:8px;background:#ededed"></div><div class="h c" style="top:144.10px;font-size:10.5px;line-height:14px;left:217.2px;width:83px;text-align:center;">输入您的标题</div><div style="left:359.0px;top:105.3px;width:83px;height:15.8px;border-radius:8px;background:#ededed"></div><div class="h c" style="top:107.00px;font-size:10.5px;line-height:14px;left:359.0px;width:83px;text-align:center;">输入您的标题</div><div class="p" style="top:229.70px;font-size:7.9px;line-height:14.2px;left:66.2px;color:#444;">标题数字等都可以通过点击<br>和重新输入进行更改</div><div class="p" style="top:172.25px;font-size:7.9px;line-height:14.6px;left:208.1px;color:#444;">标题数字等都可以通过点击<br>和重新输入进行更改</div><div class="p" style="top:208.20px;font-size:7.9px;line-height:14.6px;left:208.1px;color:#444;">标题数字等都可以通过点击<br>和重新输入进行更改</div><div class="p" style="top:136.20px;font-size:7.9px;line-height:14.2px;left:350px;color:#444;">标题数字等都可以通过点击<br>和重新输入进行更改</div><div class="p" style="top:172.20px;font-size:7.9px;line-height:14.2px;left:350px;color:#444;">标题数字等都可以通过点击<br>和重新输入进行更改</div><div class="p" style="top:208.70px;font-size:7.9px;line-height:14.2px;left:350px;color:#444;">标题数字等都可以通过点击<br>和重新输入进行更改</div><div class="p" style="top:244.70px;font-size:7.9px;line-height:14.2px;left:350px;color:#444;">标题数字等都可以通过点击<br>和重新输入进行更改</div></div>
<div class="s" style="left:0px;top:1110px"><div class="sb"></div><svg class="lg" style="left:0;top:0;width:27px;height:30px" viewBox="0 0 27 30"><g transform="translate(13.1 15) scale(0.4293478260869566)"><circle r="17.6" fill="#e3f5fa" stroke="#93b4c2" stroke-width="1.5"/><circle r="15.6" fill="none" stroke="#b9dbe6" stroke-width="0.6"/><path d="M-12.9 3.2A13.3 13.3 0 1 1 12.9 3.2" fill="none" stroke="#3d7f9c" stroke-width="1.5" stroke-dasharray="1.5 0.9" stroke-opacity="0.9"/><path d="M-11.5 6.700A13.3 13.3 0 0 0 11.5 6.700" fill="none" stroke="#8fbdd0" stroke-width="1.2" stroke-dasharray="1 1.4" stroke-opacity="0.8"/><circle r="11" fill="#fbfeff" stroke="#a9cbd8" stroke-width="0.6"/><path d="M-5.6 -8.3l1.3 1.3h8.6l1.3-1.3 0.5 0.6-1.5 2h-9.2l-1.5-2z" fill="#1b6f92"/><path d="M-4.2 -5.6h8.4v8.2h-8.4z" fill="#1b6f92"/><path d="M-2.9 -4.4h2.2v2.4h-2.2zM0.7 -4.4h2.2v2.4h-2.2zM-2.9 -1h2.2v2.4h-2.2zM0.7 -1h2.2v2.4h-2.2z" fill="#cfe9f2"/><path d="M-4.2 2.6l-1.7 5.6h1.9l1.5-3.6 2.5 2.7 2.5-2.7 1.5 3.6h1.9l-1.7-5.6h-1.6l-2.6 2.7-2.6-2.7z" fill="#1b6f92"/></g></svg><div class="vt">Business plan | <b>商业计划书</b></div><div class="pn">128</div><div class="ft">www.pptgenius.com | 内部资料 禁止外传</div><div class="tt">并列关系</div><div style="left:56px;top:112px;width:403.5px;height:212.6px;background:#f5f5f5"></div><svg style="left:0;top:0" width="475" height="360" viewBox="0 0 475 360"><g transform="translate(89.10000000000001 80.9)" stroke="#1a6185" stroke-linejoin="round"><path d="M15.5 4.1c0-1.3 2-2.100 4.500-2.100s4.500 0.800 4.500 2.100v9c0 1.300-2 2.100-4.500 2.100s-4.500-0.800-4.500-2.100z" fill="#e4f6fb" stroke-width="1.35"/><path d="M15.5 4.1c0 1.300 2 2.100 4.500 2.100s4.500-0.800 4.500-2.100" fill="none" stroke-width="1.35"/><path d="M15.5 7.1c0 1.300 2 2.100 4.500 2.100s4.500-0.800 4.500-2.100" fill="none" stroke-width="1.35"/><path d="M15.5 10.1c0 1.300 2 2.100 4.500 2.100s4.500-0.800 4.500-2.100" fill="none" stroke-width="1.35"/><path d="M-0.600 3.200c0-2.200 3.400-3.600 7.750-3.600s7.750 1.400 7.750 3.600v13.500c0 2.200-3.400 3.600-7.750 3.600s-7.750-1.400-7.750-3.600z" fill="#fff" stroke="none"/><path d="M0.650 3.200c0-1.600 2.900-2.700 6.500-2.700s6.500 1.100 6.500 2.700v13.300c0 1.600-2.900 2.700-6.500 2.700s-6.500-1.100-6.500-2.700z" fill="#e4f6fb" stroke-width="1.750"/><path d="M0.650 3.2c0 1.600 2.900 2.700 6.500 2.700s6.500-1.100 6.500-2.700" fill="none" stroke-width="1.750"/><path d="M0.650 7c0 1.600 2.900 2.700 6.500 2.700s6.500-1.100 6.500-2.700" fill="none" stroke-width="1.750"/><path d="M0.650 10.8c0 1.600 2.900 2.700 6.500 2.700s6.500-1.100 6.500-2.700" fill="none" stroke-width="1.750"/><path d="M0.650 14.6c0 1.600 2.900 2.700 6.500 2.700s6.500-1.100 6.500-2.700" fill="none" stroke-width="1.750"/><circle cx="17.150" cy="18.300" r="7.300" fill="#fff" stroke="none"/><circle cx="17.150" cy="18.300" r="5.700" fill="#e4f6fb" stroke-width="1.750"/><text x="17.150" y="21.300" font-size="8.400" font-weight="bold" fill="#1a6185" stroke="none" text-anchor="middle" font-family="Liberation Sans,sans-serif">$</text></g><g transform="translate(193.2 80.9)" stroke="#1a6185" stroke-linejoin="round"><path d="M15.5 4.1c0-1.3 2-2.100 4.500-2.100s4.500 0.800 4.500 2.100v9c0 1.300-2 2.100-4.500 2.100s-4.500-0.800-4.500-2.100z" fill="#e4f6fb" stroke-width="1.35"/><path d="M15.5 4.1c0 1.300 2 2.100 4.500 2.100s4.500-0.800 4.500-2.100" fill="none" stroke-width="1.35"/><path d="M15.5 7.1c0 1.300 2 2.100 4.500 2.100s4.500-0.800 4.500-2.100" fill="none" stroke-width="1.35"/><path d="M15.5 10.1c0 1.300 2 2.100 4.500 2.100s4.500-0.800 4.500-2.100" fill="none" stroke-width="1.35"/><path d="M-0.600 3.200c0-2.200 3.400-3.600 7.750-3.600s7.750 1.400 7.750 3.600v13.500c0 2.200-3.400 3.600-7.750 3.600s-7.750-1.400-7.750-3.600z" fill="#fff" stroke="none"/><path d="M0.650 3.200c0-1.600 2.900-2.700 6.500-2.700s6.500 1.100 6.500 2.700v13.300c0 1.600-2.900 2.700-6.500 2.700s-6.500-1.100-6.500-2.700z" fill="#e4f6fb" stroke-width="1.750"/><path d="M0.650 3.2c0 1.600 2.900 2.700 6.500 2.700s6.500-1.100 6.500-2.700" fill="none" stroke-width="1.750"/><path d="M0.650 7c0 1.600 2.900 2.700 6.500 2.700s6.500-1.100 6.500-2.700" fill="none" stroke-width="1.750"/><path d="M0.650 10.8c0 1.600 2.900 2.700 6.500 2.700s6.500-1.100 6.500-2.700" fill="none" stroke-width="1.750"/><path d="M0.650 14.6c0 1.600 2.900 2.700 6.500 2.700s6.500-1.100 6.500-2.700" fill="none" stroke-width="1.750"/><circle cx="17.150" cy="18.300" r="7.300" fill="#fff" stroke="none"/><circle cx="17.150" cy="18.300" r="5.700" fill="#e4f6fb" stroke-width="1.750"/><text x="17.150" y="21.300" font-size="8.400" font-weight="bold" fill="#1a6185" stroke="none" text-anchor="middle" font-family="Liberation Sans,sans-serif">$</text></g><g transform="translate(297.2 80.9)" stroke="#1a6185" stroke-linejoin="round"><path d="M15.5 4.1c0-1.3 2-2.100 4.500-2.100s4.500 0.800 4.500 2.100v9c0 1.300-2 2.100-4.500 2.100s-4.500-0.800-4.500-2.100z" fill="#e4f6fb" stroke-width="1.35"/><path d="M15.5 4.1c0 1.300 2 2.100 4.500 2.100s4.500-0.800 4.500-2.100" fill="none" stroke-width="1.35"/><path d="M15.5 7.1c0 1.300 2 2.100 4.500 2.100s4.500-0.800 4.500-2.100" fill="none" stroke-width="1.35"/><path d="M15.5 10.1c0 1.300 2 2.100 4.500 2.100s4.500-0.800 4.500-2.100" fill="none" stroke-width="1.35"/><path d="M-0.600 3.200c0-2.200 3.400-3.600 7.750-3.600s7.750 1.400 7.750 3.600v13.500c0 2.200-3.400 3.600-7.750 3.600s-7.750-1.400-7.750-3.600z" fill="#fff" stroke="none"/><path d="M0.650 3.200c0-1.600 2.900-2.700 6.500-2.700s6.500 1.100 6.500 2.700v13.300c0 1.600-2.900 2.700-6.500 2.700s-6.500-1.100-6.500-2.700z" fill="#e4f6fb" stroke-width="1.750"/><path d="M0.650 3.2c0 1.600 2.900 2.700 6.500 2.700s6.500-1.100 6.500-2.700" fill="none" stroke-width="1.750"/><path d="M0.650 7c0 1.600 2.900 2.700 6.500 2.700s6.500-1.100 6.500-2.700" fill="none" stroke-width="1.750"/><path d="M0.650 10.8c0 1.600 2.900 2.700 6.500 2.700s6.500-1.100 6.500-2.700" fill="none" stroke-width="1.750"/><path d="M0.650 14.6c0 1.600 2.900 2.700 6.500 2.700s6.500-1.100 6.500-2.700" fill="none" stroke-width="1.750"/><circle cx="17.150" cy="18.300" r="7.300" fill="#fff" stroke="none"/><circle cx="17.150" cy="18.300" r="5.700" fill="#e4f6fb" stroke-width="1.750"/><text x="17.150" y="21.300" font-size="8.400" font-weight="bold" fill="#1a6185" stroke="none" text-anchor="middle" font-family="Liberation Sans,sans-serif">$</text></g><g transform="translate(401.5 80.9)" stroke="#1a6185" stroke-linejoin="round"><path d="M15.5 4.1c0-1.3 2-2.100 4.500-2.100s4.500 0.800 4.500 2.100v9c0 1.300-2 2.100-4.500 2.100s-4.500-0.800-4.500-2.100z" fill="#e4f6fb" stroke-width="1.35"/><path d="M15.5 4.1c0 1.300 2 2.100 4.500 2.100s4.500-0.800 4.500-2.100" fill="none" stroke-width="1.35"/><path d="M15.5 7.1c0 1.300 2 2.100 4.500 2.100s4.500-0.800 4.500-2.100" fill="none" stroke-width="1.35"/><path d="M15.5 10.1c0 1.300 2 2.100 4.500 2.100s4.500-0.800 4.500-2.100" fill="none" stroke-width="1.35"/><path d="M-0.600 3.200c0-2.200 3.400-3.600 7.750-3.600s7.750 1.400 7.750 3.600v13.500c0 2.200-3.400 3.600-7.750 3.600s-7.750-1.400-7.750-3.600z" fill="#fff" stroke="none"/><path d="M0.650 3.200c0-1.600 2.900-2.700 6.500-2.700s6.500 1.100 6.500 2.700v13.300c0 1.600-2.900 2.700-6.500 2.700s-6.500-1.100-6.500-2.700z" fill="#e4f6fb" stroke-width="1.750"/><path d="M0.650 3.2c0 1.600 2.900 2.700 6.500 2.700s6.500-1.100 6.500-2.700" fill="none" stroke-width="1.750"/><path d="M0.650 7c0 1.600 2.900 2.700 6.500 2.700s6.500-1.100 6.500-2.700" fill="none" stroke-width="1.750"/><path d="M0.650 10.8c0 1.600 2.900 2.700 6.500 2.700s6.500-1.100 6.500-2.700" fill="none" stroke-width="1.750"/><path d="M0.650 14.6c0 1.600 2.900 2.700 6.500 2.700s6.500-1.100 6.500-2.700" fill="none" stroke-width="1.750"/><circle cx="17.150" cy="18.300" r="7.300" fill="#fff" stroke="none"/><circle cx="17.150" cy="18.300" r="5.700" fill="#e4f6fb" stroke-width="1.750"/><text x="17.150" y="21.300" font-size="8.400" font-weight="bold" fill="#1a6185" stroke="none" text-anchor="middle" font-family="Liberation Sans,sans-serif">$</text></g></svg><div style="left:56.800000000000004px;top:112px;width:89.2px;height:24px;border-radius:12px;background:#15678d"></div><div class="h c" style="top:115.60px;font-size:13.2px;line-height:18px;left:56.900000000000006px;width:89px;text-align:center;color:#fff;">输入标题</div><div style="left:56.400000000000006px;top:148.2px;width:90px;height:26.8px;background:#fff;border:0.8px solid #e6e6e6"></div><div class="p c" style="top:156.40px;font-size:7.8px;line-height:12px;left:56.400000000000006px;width:90px;text-align:center;color:#222;">输入您的标题文字</div><div style="left:56.400000000000006px;top:183.2px;width:90px;height:26.8px;background:#fff;border:0.8px solid #e6e6e6"></div><div class="p c" style="top:191.40px;font-size:7.8px;line-height:12px;left:56.400000000000006px;width:90px;text-align:center;color:#222;">这是您的文字内容</div><div style="left:56.400000000000006px;top:218.2px;width:90px;height:26.8px;background:#fff;border:0.8px solid #e6e6e6"></div><div class="p c" style="top:226.40px;font-size:7.8px;line-height:12px;left:56.400000000000006px;width:90px;text-align:center;color:#222;">这是您的文字内容</div><div style="left:56.400000000000006px;top:253.20000000000002px;width:90px;height:26.8px;background:#fff;border:0.8px solid #e6e6e6"></div><div class="p c" style="top:261.40px;font-size:7.8px;line-height:12px;left:56.400000000000006px;width:90px;text-align:center;color:#222;">这是您的文字内容</div><div style="left:56.400000000000006px;top:288.20000000000005px;width:90px;height:26.8px;background:#fff;border:0.8px solid #e6e6e6"></div><div class="p c" style="top:296.40px;font-size:7.8px;line-height:12px;left:56.400000000000006px;width:90px;text-align:center;color:#222;">这是您的文字内容</div><div style="left:160.9px;top:112px;width:89.2px;height:24px;border-radius:12px;background:#15678d"></div><div class="h c" style="top:115.60px;font-size:13.2px;line-height:18px;left:161.0px;width:89px;text-align:center;color:#fff;">输入标题</div><div style="left:160.5px;top:148.2px;width:90px;height:26.8px;background:#fff;border:0.8px solid #e6e6e6"></div><div class="p c" style="top:156.40px;font-size:7.8px;line-height:12px;left:160.5px;width:90px;text-align:center;color:#222;">输入您的标题文字</div><div style="left:160.5px;top:183.2px;width:90px;height:26.8px;background:#fff;border:0.8px solid #e6e6e6"></div><div class="p c" style="top:191.40px;font-size:7.8px;line-height:12px;left:160.5px;width:90px;text-align:center;color:#222;">这是您的文字内容</div><div style="left:160.5px;top:218.2px;width:90px;height:26.8px;background:#fff;border:0.8px solid #e6e6e6"></div><div class="p c" style="top:226.40px;font-size:7.8px;line-height:12px;left:160.5px;width:90px;text-align:center;color:#222;">这是您的文字内容</div><div style="left:160.5px;top:253.20000000000002px;width:90px;height:26.8px;background:#fff;border:0.8px solid #e6e6e6"></div><div class="p c" style="top:261.40px;font-size:7.8px;line-height:12px;left:160.5px;width:90px;text-align:center;color:#222;">这是您的文字内容</div><div style="left:160.5px;top:288.20000000000005px;width:90px;height:26.8px;background:#fff;border:0.8px solid #e6e6e6"></div><div class="p c" style="top:296.40px;font-size:7.8px;line-height:12px;left:160.5px;width:90px;text-align:center;color:#222;">这是您的文字内容</div><div style="left:264.9px;top:112px;width:89.2px;height:24px;border-radius:12px;background:#15678d"></div><div class="h c" style="top:115.60px;font-size:13.2px;line-height:18px;left:265.0px;width:89px;text-align:center;color:#fff;">输入标题</div><div style="left:264.5px;top:148.2px;width:90px;height:26.8px;background:#fff;border:0.8px solid #e6e6e6"></div><div class="p c" style="top:156.40px;font-size:7.8px;line-height:12px;left:264.5px;width:90px;text-align:center;color:#222;">输入您的标题文字</div><div style="left:264.5px;top:183.2px;width:90px;height:26.8px;background:#fff;border:0.8px solid #e6e6e6"></div><div class="p c" style="top:191.40px;font-size:7.8px;line-height:12px;left:264.5px;width:90px;text-align:center;color:#222;">这是您的文字内容</div><div style="left:264.5px;top:218.2px;width:90px;height:26.8px;background:#fff;border:0.8px solid #e6e6e6"></div><div class="p c" style="top:226.40px;font-size:7.8px;line-height:12px;left:264.5px;width:90px;text-align:center;color:#222;">这是您的文字内容</div><div style="left:264.5px;top:253.20000000000002px;width:90px;height:26.8px;background:#fff;border:0.8px solid #e6e6e6"></div><div class="p c" style="top:261.40px;font-size:7.8px;line-height:12px;left:264.5px;width:90px;text-align:center;color:#222;">这是您的文字内容</div><div style="left:264.5px;top:288.20000000000005px;width:90px;height:26.8px;background:#fff;border:0.8px solid #e6e6e6"></div><div class="p c" style="top:296.40px;font-size:7.8px;line-height:12px;left:264.5px;width:90px;text-align:center;color:#222;">这是您的文字内容</div><div style="left:369.2px;top:112px;width:89.2px;height:24px;border-radius:12px;background:#15678d"></div><div class="h c" style="top:115.60px;font-size:13.2px;line-height:18px;left:369.3px;width:89px;text-align:center;color:#fff;">输入标题</div><div style="left:368.8px;top:148.2px;width:90px;height:26.8px;background:#fff;border:0.8px solid #e6e6e6"></div><div class="p c" style="top:156.40px;font-size:7.8px;line-height:12px;left:368.8px;width:90px;text-align:center;color:#222;">输入您的标题文字</div><div style="left:368.8px;top:183.2px;width:90px;height:26.8px;background:#fff;border:0.8px solid #e6e6e6"></div><div class="p c" style="top:191.40px;font-size:7.8px;line-height:12px;left:368.8px;width:90px;text-align:center;color:#222;">这是您的文字内容</div><div style="left:368.8px;top:218.2px;width:90px;height:26.8px;background:#fff;border:0.8px solid #e6e6e6"></div><div class="p c" style="top:226.40px;font-size:7.8px;line-height:12px;left:368.8px;width:90px;text-align:center;color:#222;">这是您的文字内容</div><div style="left:368.8px;top:253.20000000000002px;width:90px;height:26.8px;background:#fff;border:0.8px solid #e6e6e6"></div><div class="p c" style="top:261.40px;font-size:7.8px;line-height:12px;left:368.8px;width:90px;text-align:center;color:#222;">这是您的文字内容</div><div style="left:368.8px;top:288.20000000000005px;width:90px;height:26.8px;background:#fff;border:0.8px solid #e6e6e6"></div><div class="p c" style="top:296.40px;font-size:7.8px;line-height:12px;left:368.8px;width:90px;text-align:center;color:#222;">这是您的文字内容</div></div>
<div class="s" style="left:485px;top:1110px"><svg style="left:0;top:0" width="475" height="360" viewBox="0 0 475 360"><defs>
<linearGradient id="bg8" gradientUnits="userSpaceOnUse" x1="0" y1="0" x2="400" y2="330"><stop offset="0" stop-color="#e2e2e2"/><stop offset="0.35" stop-color="#ebebeb"/><stop offset="0.65" stop-color="#f7f7f7"/><stop offset="1" stop-color="#ffffff"/></linearGradient>
<linearGradient id="tl8" x1="0" y1="0" x2="0.55" y2="1"><stop offset="0" stop-color="#4593b3"/><stop offset="0.45" stop-color="#1f7499"/><stop offset="1" stop-color="#14648b"/></linearGradient>
<linearGradient id="wf8" gradientUnits="userSpaceOnUse" x1="60" y1="40" x2="400" y2="330"><stop offset="0" stop-color="#fff" stop-opacity="0"/><stop offset="0.4" stop-color="#fff" stop-opacity="0.1"/><stop offset="0.75" stop-color="#fff" stop-opacity="0.7"/><stop offset="1" stop-color="#fff" stop-opacity="0.95"/></linearGradient>
<radialGradient id="fb8" gradientUnits="userSpaceOnUse" cx="480" cy="-231" r="380"><stop offset="0.76" stop-color="#fcfcfc"/><stop offset="0.88" stop-color="#f3f3f3" stop-opacity="0.95"/><stop offset="0.96" stop-color="#ececec" stop-opacity="0.5"/><stop offset="1" stop-color="#e9e9e9" stop-opacity="0"/></radialGradient>
<linearGradient id="lw8" x1="0" y1="0" x2="0.25" y2="1"><stop offset="0" stop-color="#fff" stop-opacity="0"/><stop offset="0.45" stop-color="#fff" stop-opacity="0.7"/><stop offset="1" stop-color="#fff" stop-opacity="0.95"/></linearGradient>
<linearGradient id="cb8" x1="0" y1="0" x2="1" y2="0"><stop offset="0" stop-color="#e2e2e2"/><stop offset="0.6" stop-color="#ececec"/><stop offset="1" stop-color="#f6f6f6" stop-opacity="0"/></linearGradient>
<filter id="bl8" x="-5%" y="-5%" width="110%" height="110%"><feGaussianBlur stdDeviation="0.7"/></filter>
</defs><rect width="475" height="360" fill="url(#bg8)"/><g filter="url(#bl8)" fill="none" stroke="#fff"><ellipse cx="480" cy="-231" rx="395" ry="395.0" stroke-width="3" stroke-opacity="0.55"/><ellipse cx="480" cy="-231" rx="424" ry="424.0" stroke-width="2" stroke-opacity="0.5"/><ellipse cx="480" cy="-231" rx="455" ry="455.0" stroke-width="4" stroke-opacity="0.6"/><ellipse cx="480" cy="-231" rx="482" ry="482.0" stroke-width="2" stroke-opacity="0.45"/><ellipse cx="480" cy="-231" rx="508" ry="508.0" stroke-width="3.5" stroke-opacity="0.6"/><ellipse cx="480" cy="-231" rx="536" ry="528.0" stroke-width="2" stroke-opacity="0.5"/><ellipse cx="480" cy="-231" rx="566" ry="541.6" stroke-width="4.5" stroke-opacity="0.6"/><ellipse cx="480" cy="-231" rx="598" ry="554.3" stroke-width="2.5" stroke-opacity="0.5"/><ellipse cx="480" cy="-231" rx="632" ry="565.7" stroke-width="4" stroke-opacity="0.6"/><ellipse cx="480" cy="-231" rx="668" ry="575.4" stroke-width="2.5" stroke-opacity="0.5"/><ellipse cx="480" cy="-231" rx="706" ry="583.0" stroke-width="5" stroke-opacity="0.6"/><ellipse cx="480" cy="-231" rx="744" ry="587.9" stroke-width="3" stroke-opacity="0.5"/></g><rect width="475" height="360" fill="url(#wf8)"/><circle cx="480" cy="-231" r="380" fill="url(#fb8)"/><g filter="url(#bl8)"><circle cx="480" cy="-231" r="368" fill="none" stroke="#fff" stroke-width="2" stroke-opacity="0.8"/><circle cx="480" cy="-231" r="354" fill="none" stroke="#fff" stroke-width="3" stroke-opacity="0.9"/><circle cx="480" cy="-231" r="340" fill="none" stroke="#fff" stroke-width="2" stroke-opacity="0.8"/><circle cx="480" cy="-231" r="327" fill="none" stroke="#fff" stroke-width="3.5" stroke-opacity="0.9"/><circle cx="480" cy="-231" r="314" fill="none" stroke="#fff" stroke-width="2" stroke-opacity="0.8"/><circle cx="480" cy="-231" r="302" fill="none" stroke="#fff" stroke-width="3" stroke-opacity="0.9"/></g><circle cx="480" cy="-231" r="292" fill="#fff"/><path d="M0 204C80 278 210 330 380 336C260 346 110 300 0 222z" fill="url(#cb8)" fill-opacity="0.6"/><path d="M0 226C70 288 190 336 330 345L0 360z" fill="#e4e4e4" fill-opacity="0.9"/><path d="M0 234.500C70 292 190 339 320 347L0 360z" fill="#fff"/><path d="M475 277C410 318 330 347 255 360H475z" fill="#404040"/><path d="M0 242C60 290 170 338 312 346C290 352 270 357 255 360H0z" fill="url(#tl8)"/><g transform="translate(440.5 37) scale(1.0)"><circle r="17.6" fill="#e3f5fa" stroke="#93b4c2" stroke-width="1.5"/><circle r="15.6" fill="none" stroke="#b9dbe6" stroke-width="0.6"/><path d="M-12.9 3.2A13.3 13.3 0 1 1 12.9 3.2" fill="none" stroke="#3d7f9c" stroke-width="1.5" stroke-dasharray="1.5 0.9" stroke-opacity="0.9"/><path d="M-11.5 6.700A13.3 13.3 0 0 0 11.5 6.700" fill="none" stroke="#8fbdd0" stroke-width="1.2" stroke-dasharray="1 1.4" stroke-opacity="0.8"/><circle r="11" fill="#fbfeff" stroke="#a9cbd8" stroke-width="0.6"/><path d="M-5.6 -8.3l1.3 1.3h8.6l1.3-1.3 0.5 0.6-1.5 2h-9.2l-1.5-2z" fill="#1b6f92"/><path d="M-4.2 -5.6h8.4v8.2h-8.4z" fill="#1b6f92"/><path d="M-2.9 -4.4h2.2v2.4h-2.2zM0.7 -4.4h2.2v2.4h-2.2zM-2.9 -1h2.2v2.4h-2.2zM0.7 -1h2.2v2.4h-2.2z" fill="#cfe9f2"/><path d="M-4.2 2.6l-1.7 5.6h1.9l1.5-3.6 2.5 2.7 2.5-2.7 1.5 3.6h1.9l-1.7-5.6h-1.6l-2.6 2.7-2.6-2.7z" fill="#1b6f92"/></g></svg><div style="left:77.5px;top:116.2px;width:55px;height:57.6px;background:#16678e;border:1px solid #e9eef1"></div><div style="left:77.5px;top:116.2px;width:55px;height:43.9px;overflow:hidden"><div style="left:0;top:4.4px;width:55px;height:54px;line-height:54px;text-align:left;color:#fff;font-weight:bold;font-size:54px;letter-spacing:-8.4px;text-indent:4.6px">11</div></div><div class="h" style="top:116.10px;font-size:31.5px;line-height:40px;left:151.2px;">风险分析</div><div style="left:151.2px;top:162.6px;width:239px;height:0.9px;background:#222"></div><div class="p" style="top:174.55px;font-size:11.9px;line-height:17.5px;left:151.2px;color:#111;">主要介绍本项目将来会遇到的各种风险，以及<br>应对这些的风险的具体措施。</div><div class="pn" style="color:#fff;left:0;width:25px">129</div><div style="left:27.2px;top:344px;font-size:6.5px;line-height:10px;color:#fff;white-space:nowrap">Business plan | <b>商业计划书</b></div><div class="ft" style="color:#8a8a8a">www.pptgenius.com | 内部资料 禁止外传</div></div>
<div class="s" style="left:0px;top:1480px"><div class="sb"></div><svg class="lg" style="left:0;top:0;width:27px;height:30px" viewBox="0 0 27 30"><g transform="translate(13.1 15) scale(0.4293478260869566)"><circle r="17.6" fill="#e3f5fa" stroke="#93b4c2" stroke-width="1.5"/><circle r="15.6" fill="none" stroke="#b9dbe6" stroke-width="0.6"/><path d="M-12.9 3.2A13.3 13.3 0 1 1 12.9 3.2" fill="none" stroke="#3d7f9c" stroke-width="1.5" stroke-dasharray="1.5 0.9" stroke-opacity="0.9"/><path d="M-11.5 6.700A13.3 13.3 0 0 0 11.5 6.700" fill="none" stroke="#8fbdd0" stroke-width="1.2" stroke-dasharray="1 1.4" stroke-opacity="0.8"/><circle r="11" fill="#fbfeff" stroke="#a9cbd8" stroke-width="0.6"/><path d="M-5.6 -8.3l1.3 1.3h8.6l1.3-1.3 0.5 0.6-1.5 2h-9.2l-1.5-2z" fill="#1b6f92"/><path d="M-4.2 -5.6h8.4v8.2h-8.4z" fill="#1b6f92"/><path d="M-2.9 -4.4h2.2v2.4h-2.2zM0.7 -4.4h2.2v2.4h-2.2zM-2.9 -1h2.2v2.4h-2.2zM0.7 -1h2.2v2.4h-2.2z" fill="#cfe9f2"/><path d="M-4.2 2.6l-1.7 5.6h1.9l1.5-3.6 2.5 2.7 2.5-2.7 1.5 3.6h1.9l-1.7-5.6h-1.6l-2.6 2.7-2.6-2.7z" fill="#1b6f92"/></g></svg><div class="vt">Business plan | <b>商业计划书</b></div><div class="pn">130</div><div class="ft">www.pptgenius.com | 内部资料 禁止外传</div><div class="tt">风险分析</div><svg style="left:0;top:0" width="475" height="360" viewBox="0 0 475 360"><defs><clipPath id="hx9"><path d="M335.07 175.10A15 15 0 0 1 335.07 190.10L302.83 245.94A15 15 0 0 1 289.84 253.44L225.36 253.44A15 15 0 0 1 212.37 245.94L180.13 190.10A15 15 0 0 1 180.13 175.10L212.37 119.26A15 15 0 0 1 225.36 111.76L289.84 111.76A15 15 0 0 1 302.83 119.26Z"/></clipPath></defs><g clip-path="url(#hx9)"><path d="M189.45 155.07L194.40 153.24L198.98 151.65L203.25 150.27L207.23 149.05L210.96 147.98L214.46 147.03L217.76 146.20L220.88 145.45L223.85 144.79L226.69 144.20L229.41 143.68L232.03 143.23L234.57 142.84L237.02 142.51L239.42 142.23L241.75 142.02L244.04 141.87L246.28 141.77L248.48 141.75L250.65 141.78L252.78 141.88L254.88 142.05L256.95 142.29L259.00 142.59L261.01 142.97L262.99 143.43L264.94 143.95L266.85 144.56L268.73 145.23L270.57 145.99L272.36 146.82L274.11 147.72L275.82 148.70L277.47 149.75L279.07 150.87L280.61 152.07A37.6 37.6 0 0 1 295.55 187.26L295.55 187.26L295.81 185.33L295.98 183.38L296.07 181.42L296.06 179.46L295.97 177.49L295.79 175.52L295.52 173.55L295.17 171.59L294.74 169.63L294.22 167.68L293.62 165.74L292.95 163.81L292.19 161.88L291.36 159.97L290.45 158.07L289.47 156.17L288.42 154.27L287.29 152.38L286.09 150.49L284.82 148.58L283.47 146.67L282.03 144.73L280.52 142.77L278.91 140.77L277.21 138.73L275.40 136.63L273.47 134.47L271.41 132.23L269.20 129.89L266.83 127.45L264.26 124.90L261.47 122.20L258.43 119.36L255.09 116.36L251.43 113.18L247.37 109.82L242.29 73.67L183.72 88.04L155.61 141.39Z" fill="#15678e" stroke="#fff" stroke-width="1.9" stroke-linejoin="round"/><path d="M247.37 109.82L251.43 113.18L255.09 116.36L258.43 119.36L261.47 122.20L264.26 124.90L266.83 127.45L269.20 129.89L271.41 132.23L273.47 134.47L275.40 136.63L277.21 138.73L278.91 140.77L280.52 142.77L282.03 144.73L283.47 146.67L284.82 148.58L286.09 150.49L287.29 152.38L288.42 154.27L289.47 156.17L290.45 158.07L291.36 159.97L292.19 161.88L292.95 163.81L293.62 165.74L294.22 167.68L294.74 169.63L295.17 171.59L295.52 173.55L295.79 175.52L295.97 177.49L296.06 179.46L296.07 181.42L295.98 183.38L295.81 185.33L295.55 187.26A37.6 37.6 0 0 1 272.54 217.79L272.54 217.79L274.34 217.06L276.11 216.23L277.85 215.33L279.55 214.34L281.21 213.28L282.82 212.13L284.40 210.92L285.92 209.63L287.40 208.28L288.83 206.85L290.21 205.37L291.55 203.81L292.84 202.20L294.08 200.52L295.27 198.79L296.43 196.99L297.54 195.13L298.62 193.21L299.66 191.22L300.67 189.16L301.65 187.04L302.61 184.83L303.55 182.53L304.48 180.14L305.40 177.65L306.31 175.03L307.22 172.28L308.13 169.37L309.05 166.30L309.97 163.02L310.90 159.51L311.84 155.75L312.78 151.70L313.71 147.31L314.63 142.54L315.52 137.35L344.28 114.88L302.55 71.34L242.29 73.67Z" fill="#1f7196" stroke="#fff" stroke-width="1.9" stroke-linejoin="round"/><path d="M315.52 137.35L314.63 142.54L313.71 147.31L312.78 151.70L311.84 155.75L310.90 159.51L309.97 163.02L309.05 166.30L308.13 169.37L307.22 172.28L306.31 175.03L305.40 177.65L304.48 180.14L303.55 182.53L302.61 184.83L301.65 187.04L300.67 189.16L299.66 191.22L298.62 193.21L297.54 195.13L296.43 196.99L295.27 198.79L294.08 200.52L292.84 202.20L291.55 203.81L290.21 205.37L288.83 206.85L287.40 208.28L285.92 209.63L284.40 210.92L282.82 212.13L281.21 213.28L279.55 214.34L277.85 215.33L276.11 216.23L274.34 217.06L272.54 217.79A37.6 37.6 0 0 1 234.59 213.13L234.59 213.13L236.13 214.33L237.73 215.45L239.38 216.50L241.09 217.48L242.84 218.38L244.63 219.21L246.47 219.97L248.35 220.64L250.26 221.25L252.21 221.77L254.19 222.23L256.20 222.61L258.25 222.91L260.32 223.15L262.42 223.32L264.55 223.42L266.72 223.45L268.92 223.43L271.16 223.33L273.45 223.18L275.78 222.97L278.18 222.69L280.63 222.36L283.17 221.97L285.79 221.52L288.51 221.00L291.35 220.41L294.32 219.75L297.44 219.00L300.74 218.17L304.24 217.22L307.97 216.15L311.95 214.93L316.22 213.55L320.80 211.96L325.75 210.13L359.59 223.81L376.43 165.90L344.28 114.88Z" fill="#2c7ca0" stroke="#fff" stroke-width="1.9" stroke-linejoin="round"/><path d="M325.75 210.13L320.80 211.96L316.22 213.55L311.95 214.93L307.97 216.15L304.24 217.22L300.74 218.17L297.44 219.00L294.32 219.75L291.35 220.41L288.51 221.00L285.79 221.52L283.17 221.97L280.63 222.36L278.18 222.69L275.78 222.97L273.45 223.18L271.16 223.33L268.92 223.43L266.72 223.45L264.55 223.42L262.42 223.32L260.32 223.15L258.25 222.91L256.20 222.61L254.19 222.23L252.21 221.77L250.26 221.25L248.35 220.64L246.47 219.97L244.63 219.21L242.84 218.38L241.09 217.48L239.38 216.50L237.73 215.45L236.13 214.33L234.59 213.13A37.6 37.6 0 0 1 219.65 177.94L219.65 177.94L219.39 179.87L219.22 181.82L219.13 183.78L219.14 185.74L219.23 187.71L219.41 189.68L219.68 191.65L220.03 193.61L220.46 195.57L220.98 197.52L221.58 199.46L222.25 201.39L223.01 203.32L223.84 205.23L224.75 207.13L225.73 209.03L226.78 210.93L227.91 212.82L229.11 214.71L230.38 216.62L231.73 218.53L233.17 220.47L234.68 222.43L236.29 224.43L237.99 226.47L239.80 228.57L241.73 230.73L243.79 232.97L246.00 235.31L248.37 237.75L250.94 240.30L253.73 243.00L256.77 245.84L260.11 248.84L263.77 252.02L267.83 255.38L272.91 291.53L331.48 277.16L359.59 223.81Z" fill="#3f8bac" stroke="#fff" stroke-width="1.9" stroke-linejoin="round"/><path d="M267.83 255.38L263.77 252.02L260.11 248.84L256.77 245.84L253.73 243.00L250.94 240.30L248.37 237.75L246.00 235.31L243.79 232.97L241.73 230.73L239.80 228.57L237.99 226.47L236.29 224.43L234.68 222.43L233.17 220.47L231.73 218.53L230.38 216.62L229.11 214.71L227.91 212.82L226.78 210.93L225.73 209.03L224.75 207.13L223.84 205.23L223.01 203.32L222.25 201.39L221.58 199.46L220.98 197.52L220.46 195.57L220.03 193.61L219.68 191.65L219.41 189.68L219.23 187.71L219.14 185.74L219.13 183.78L219.22 181.82L219.39 179.87L219.65 177.94A37.6 37.6 0 0 1 242.66 147.41L242.66 147.41L240.86 148.14L239.09 148.97L237.35 149.87L235.65 150.86L233.99 151.92L232.38 153.07L230.80 154.28L229.28 155.57L227.80 156.92L226.37 158.35L224.99 159.83L223.65 161.39L222.36 163.00L221.12 164.68L219.93 166.41L218.77 168.21L217.66 170.07L216.58 171.99L215.54 173.98L214.53 176.04L213.55 178.16L212.59 180.37L211.65 182.67L210.72 185.06L209.80 187.55L208.89 190.17L207.98 192.92L207.07 195.83L206.15 198.90L205.23 202.18L204.30 205.69L203.36 209.45L202.42 213.50L201.49 217.89L200.57 222.66L199.68 227.85L170.92 250.32L212.65 293.86L272.91 291.53Z" fill="#5a9cb9" stroke="#fff" stroke-width="1.9" stroke-linejoin="round"/><path d="M199.68 227.85L200.57 222.66L201.49 217.89L202.42 213.50L203.36 209.45L204.30 205.69L205.23 202.18L206.15 198.90L207.07 195.83L207.98 192.92L208.89 190.17L209.80 187.55L210.72 185.06L211.65 182.67L212.59 180.37L213.55 178.16L214.53 176.04L215.54 173.98L216.58 171.99L217.66 170.07L218.77 168.21L219.93 166.41L221.12 164.68L222.36 163.00L223.65 161.39L224.99 159.83L226.37 158.35L227.80 156.92L229.28 155.57L230.80 154.28L232.38 153.07L233.99 151.92L235.65 150.86L237.35 149.87L239.09 148.97L240.86 148.14L242.66 147.41A37.6 37.6 0 0 1 280.61 152.07L280.61 152.07L279.07 150.87L277.47 149.75L275.82 148.70L274.11 147.72L272.36 146.82L270.57 145.99L268.73 145.23L266.85 144.56L264.94 143.95L262.99 143.43L261.01 142.97L259.00 142.59L256.95 142.29L254.88 142.05L252.78 141.88L250.65 141.78L248.48 141.75L246.28 141.77L244.04 141.87L241.75 142.02L239.42 142.23L237.02 142.51L234.57 142.84L232.03 143.23L229.41 143.68L226.69 144.20L223.85 144.79L220.88 145.45L217.76 146.20L214.46 147.03L210.96 147.98L207.23 149.05L203.25 150.27L198.98 151.65L194.40 153.24L189.45 155.07L155.61 141.39L138.77 199.30L170.92 250.32Z" fill="#8cbbd0" stroke="#fff" stroke-width="1.9" stroke-linejoin="round"/></g><g transform="translate(230 129)" fill="#fff"><path d="M-3.6 -8.6c1-1 2.4-0.2 3.6-0.8 1.2 0.6 2.6-0.2 3.6 0.8l-1.7 3h-3.8z"/><path d="M-2.4 -4.8h4.8c3.4 2.2 6 5.6 6 9 0 3-2.2 4.6-8.4 4.6s-8.4-1.6-8.4-4.6c0-3.4 2.6-6.800 6-9z"/></g><text x="229.6" y="136.6" font-size="10.5" font-weight="bold" fill="#125f86" text-anchor="middle" font-family="Liberation Sans,sans-serif">¥</text><g transform="translate(279.5 119.5)" fill="none" stroke="#fff" stroke-width="1.1"><ellipse cx="5.6" cy="1.6" rx="5.2" ry="1.7" fill="#fff" stroke="#1f7196" stroke-width="0.7"/><ellipse cx="5.6" cy="4.8" rx="5.2" ry="1.7" fill="#fff" stroke="#1f7196" stroke-width="0.7"/><ellipse cx="5.6" cy="8" rx="5.2" ry="1.7" fill="#fff" stroke="#1f7196" stroke-width="0.7"/><ellipse cx="5.6" cy="11.2" rx="5.2" ry="1.7" fill="#fff" stroke="#1f7196" stroke-width="0.7"/><ellipse cx="15" cy="2.4" rx="4.4" ry="1.5" fill="#fff" stroke="#1f7196" stroke-width="0.7"/><ellipse cx="15" cy="5.4" rx="4.4" ry="1.5" fill="#fff" stroke="#1f7196" stroke-width="0.7"/><ellipse cx="15" cy="8.4" rx="4.4" ry="1.5" fill="#fff" stroke="#1f7196" stroke-width="0.7"/><circle cx="13.4" cy="13" r="4.6" fill="#1f7196" stroke="#fff" stroke-width="1.1"/></g><text x="292.9" y="135" font-size="6" font-weight="bold" fill="#fff" text-anchor="middle" font-family="Liberation Sans,sans-serif">$</text><g transform="translate(194.5 187)" fill="#fff"><circle cx="2" cy="-2.6" r="6.2" fill-opacity="0.85"/><path d="M-9.6 3.2c2-2.6 5-3.6 7.600-2.200l5 0.600c1.600 0.400 1.400 2.200-0.200 2.200l5.600-1.400c1.400-0.200 1.800 1.200 0.600 1.800l-7.800 3.600h-10.800z"/></g><text x="196.5" y="187.3" font-size="8" font-weight="bold" fill="#8cbbd0" text-anchor="middle" font-family="Liberation Sans,sans-serif">¥</text><g transform="translate(218.8 232.2)" fill="#fff"><path d="M0 0h10.400v19h-3.600v-4.600h-3.200v4.600h-3.600z"/><path d="M11.600 6h8.600v13h-8.600z"/></g><g transform="translate(218.8 232.2)" fill="#5a9cb9"><rect x="1.5" y="1.8" width="1.7" height="2.2"/><rect x="4.3" y="1.8" width="1.7" height="2.2"/><rect x="7.1" y="1.8" width="1.7" height="2.2"/><rect x="1.5" y="5.4" width="1.7" height="2.2"/><rect x="4.3" y="5.4" width="1.7" height="2.2"/><rect x="7.1" y="5.4" width="1.7" height="2.2"/><rect x="1.5" y="9.0" width="1.7" height="2.2"/><rect x="4.3" y="9.0" width="1.7" height="2.2"/><rect x="7.1" y="9.0" width="1.7" height="2.2"/><rect x="13.2" y="8.0" width="5.400" height="1.2"/><rect x="13.2" y="10.8" width="5.400" height="1.2"/><rect x="13.2" y="13.6" width="5.400" height="1.2"/></g><g transform="translate(282.6 240.6)"><path d="M-1 -8.800A9.600 9.600 0 1 0 8.800 1H-1z" fill="#fff"/><path d="M1 -10.400A9.600 9.600 0 0 1 10.400 -1H1z" fill="none" stroke="#fff" stroke-width="1"/><path d="M1.600 -9.200l3 2.400-3 2z" fill="#fff"/></g></svg><div class="h" style="top:89.30px;font-size:13.25px;line-height:18px;right:309px;text-align:right;">输入您的标题</div><div class="p" style="top:110.65px;font-size:9.33px;line-height:16.5px;right:309px;text-align:right;color:#222;">标题数字等都可以通<br>过点击和重新输入</div><div class="h" style="top:162.80px;font-size:13.25px;line-height:18px;right:328.5px;text-align:right;">输入您的标题</div><div class="p" style="top:184.15px;font-size:9.33px;line-height:16.5px;right:328.5px;text-align:right;color:#222;">标题数字等都可以通<br>过点击和重新输入</div><div class="h" style="top:236.30px;font-size:13.25px;line-height:18px;right:309px;text-align:right;">输入您的标题</div><div class="p" style="top:257.65px;font-size:9.33px;line-height:16.5px;right:309px;text-align:right;color:#222;">标题数字等都可以通<br>过点击和重新输入</div><div class="h" style="top:89.30px;font-size:13.25px;line-height:18px;left:350px;">输入您的标题</div><div class="p" style="top:110.65px;font-size:9.33px;line-height:16.5px;left:350px;color:#222;">标题数字等都可以通<br>过点击和重新输入</div><div class="h" style="top:162.80px;font-size:13.25px;line-height:18px;left:368.5px;">输入您的标题</div><div class="p" style="top:184.15px;font-size:9.33px;line-height:16.5px;left:368.5px;color:#222;">标题数字等都可以通<br>过点击和重新输入</div><div class="h" style="top:236.30px;font-size:13.25px;line-height:18px;left:350px;">输入您的标题</div><div class="p" style="top:257.65px;font-size:9.33px;line-height:16.5px;left:350px;color:#222;">标题数字等都可以通<br>过点击和重新输入</div></div>
<div class="s" style="left:485px;top:1480px"><div class="sb"></div><svg class="lg" style="left:0;top:0;width:27px;height:30px" viewBox="0 0 27 30"><g transform="translate(13.1 15) scale(0.4293478260869566)"><circle r="17.6" fill="#e3f5fa" stroke="#93b4c2" stroke-width="1.5"/><circle r="15.6" fill="none" stroke="#b9dbe6" stroke-width="0.6"/><path d="M-12.9 3.2A13.3 13.3 0 1 1 12.9 3.2" fill="none" stroke="#3d7f9c" stroke-width="1.5" stroke-dasharray="1.5 0.9" stroke-opacity="0.9"/><path d="M-11.5 6.700A13.3 13.3 0 0 0 11.5 6.700" fill="none" stroke="#8fbdd0" stroke-width="1.2" stroke-dasharray="1 1.4" stroke-opacity="0.8"/><circle r="11" fill="#fbfeff" stroke="#a9cbd8" stroke-width="0.6"/><path d="M-5.6 -8.3l1.3 1.3h8.6l1.3-1.3 0.5 0.6-1.5 2h-9.2l-1.5-2z" fill="#1b6f92"/><path d="M-4.2 -5.6h8.4v8.2h-8.4z" fill="#1b6f92"/><path d="M-2.9 -4.4h2.2v2.4h-2.2zM0.7 -4.4h2.2v2.4h-2.2zM-2.9 -1h2.2v2.4h-2.2zM0.7 -1h2.2v2.4h-2.2z" fill="#cfe9f2"/><path d="M-4.2 2.6l-1.7 5.6h1.9l1.5-3.6 2.5 2.7 2.5-2.7 1.5 3.6h1.9l-1.7-5.6h-1.6l-2.6 2.7-2.6-2.7z" fill="#1b6f92"/></g></svg><div class="vt">Business plan | <b>商业计划书</b></div><div class="pn">131</div><div class="ft">www.pptgenius.com | 内部资料 禁止外传</div><div class="tt">循环关系</div><svg style="left:0;top:0" width="475" height="360" viewBox="0 0 475 360"><path d="M184.51 187.21A72.4 72.4 0 0 1 259.13 121.54L267.89 140.79L264.00 150.12A44.4 44.4 0 0 0 213.98 181.44L204.65 178.11Z" fill="#16688f"/><path d="M263.29 121.81A72.4 72.4 0 0 1 328.96 196.43L309.71 205.19L300.38 201.30A44.4 44.4 0 0 0 269.06 151.28L272.39 141.95Z" fill="#2b7ba0"/><path d="M328.69 200.59A72.4 72.4 0 0 1 254.07 266.26L245.31 247.01L249.20 237.68A44.4 44.4 0 0 0 299.22 206.36L308.55 209.69Z" fill="#4a8fb0"/><path d="M249.91 265.99A72.4 72.4 0 0 1 184.24 191.37L203.49 182.61L212.82 186.50A44.4 44.4 0 0 0 244.14 236.52L240.81 245.85Z" fill="#7fb0c9"/><path id="tp10_0" d="M202.07 191.04A54.6 54.6 0 0 1 268.88 140.70" fill="none"/><text font-size="10" font-weight="bold" fill="#fff" letter-spacing="0.7" font-family="Liberation Sans,Noto Sans CJK SC,sans-serif"><textPath href="#tp10_0" startOffset="50%" text-anchor="middle">此处添加标题</textPath></text><path id="tp10_1" d="M258.98 139.35A54.6 54.6 0 0 1 309.91 205.72" fill="none"/><text font-size="10" font-weight="bold" fill="#fff" letter-spacing="0.7" font-family="Liberation Sans,Noto Sans CJK SC,sans-serif"><textPath href="#tp10_1" startOffset="50%" text-anchor="middle">此处添加标题</textPath></text><path id="tp10_2" d="M239.66 253.75A62.2 62.2 0 0 0 318.48 200.19" fill="none"/><text font-size="10" font-weight="bold" fill="#fff" letter-spacing="0.7" font-family="Liberation Sans,Noto Sans CJK SC,sans-serif"><textPath href="#tp10_2" startOffset="50%" text-anchor="middle">此处添加标题</textPath></text><path id="tp10_3" d="M196.33 178.54A62.2 62.2 0 0 0 251.94 255.92" fill="none"/><text font-size="10" font-weight="bold" fill="#fff" letter-spacing="0.7" font-family="Liberation Sans,Noto Sans CJK SC,sans-serif"><textPath href="#tp10_3" startOffset="50%" text-anchor="middle">此处添加标题</textPath></text><g transform="translate(257.5 197.7)" fill="#cfcfcf"><circle cx="0" cy="-15.4" r="7.2"/><circle cx="0" cy="-15.4" r="5.300" fill="#e6e6e6"/><path d="M-3.200 -15.600l2.400 2.500 4.300-4.800" fill="none" stroke="#fff" stroke-width="1.700"/><g transform="scale(-1 1)"><circle cx="15.2" cy="-16.300" r="4"/><path d="M14.750 -8.500c2.100 0 3.850 1.700 3.850 3.850v9.650c0 1.400-1.100 2.500-2.500 2.500h-6.400v9.100h-5.700v-11.800c0-1.400 1.100-2.500 2.500-2.500h4.400v-6.950c0-2.150 1.750-3.850 3.850-3.850z"/></g><g transform="scale(1 1)"><circle cx="15.2" cy="-16.300" r="4"/><path d="M14.750 -8.500c2.100 0 3.850 1.700 3.850 3.850v9.650c0 1.400-1.100 2.500-2.500 2.500h-6.400v9.100h-5.700v-11.800c0-1.400 1.100-2.500 2.500-2.500h4.400v-6.950c0-2.150 1.750-3.850 3.850-3.850z"/></g><path d="M-7.400 -4.600h14.800v1.700h-6.700v19.500h-1.400v-19.500h-6.700z"/></g><line x1="154" y1="127.5" x2="154" y2="174" stroke="#c4c4c4" stroke-width="0.7"/><line x1="154" y1="224" x2="154" y2="272.5" stroke="#c4c4c4" stroke-width="0.7"/><line x1="361.5" y1="127.5" x2="361.5" y2="174" stroke="#c4c4c4" stroke-width="0.7"/><line x1="361.5" y1="224" x2="361.5" y2="272.5" stroke="#c4c4c4" stroke-width="0.7"/></svg><div style="left:161.8px;top:124.6px;font-weight:bold;font-size:24px;line-height:24px;color:#16688f;white-space:nowrap;">01</div><div style="left:323.6px;top:124.6px;font-weight:bold;font-size:24px;line-height:24px;color:#16688f;white-space:nowrap;">02</div><div style="left:161.8px;top:245.2px;font-weight:bold;font-size:24px;line-height:24px;color:#16688f;white-space:nowrap;">04</div><div style="left:323.6px;top:245.2px;font-weight:bold;font-size:24px;line-height:24px;color:#16688f;white-space:nowrap;">03</div><div style="left:176.4px;top:141.5px;width:4.5px;height:4.2px;background:#fff"></div><div style="left:184.1px;top:141.5px;width:4.6px;height:4.2px;background:#fff"></div><div class="h" style="top:125.80px;font-size:13.25px;line-height:18px;right:328.5px;text-align:right;">输入您的标题</div><div class="p" style="top:146.10px;font-size:9.33px;line-height:16.6px;right:328.5px;text-align:right;color:#222;">标题数字等都可以通<br>过点击和重新输入</div><div class="h" style="top:125.80px;font-size:13.25px;line-height:18px;left:370px;">输入您的标题</div><div class="p" style="top:146.10px;font-size:9.33px;line-height:16.6px;left:370px;color:#222;">标题数字等都可以通<br>过点击和重新输入</div><div class="h" style="top:221.80px;font-size:13.25px;line-height:18px;right:328.5px;text-align:right;">输入您的标题</div><div class="p" style="top:242.10px;font-size:9.33px;line-height:16.6px;right:328.5px;text-align:right;color:#222;">标题数字等都可以通<br>过点击和重新输入</div><div class="h" style="top:221.80px;font-size:13.25px;line-height:18px;left:370px;">输入您的标题</div><div class="p" style="top:242.10px;font-size:9.33px;line-height:16.6px;left:370px;color:#222;">标题数字等都可以通<br>过点击和重新输入</div></div>
</body></html>
